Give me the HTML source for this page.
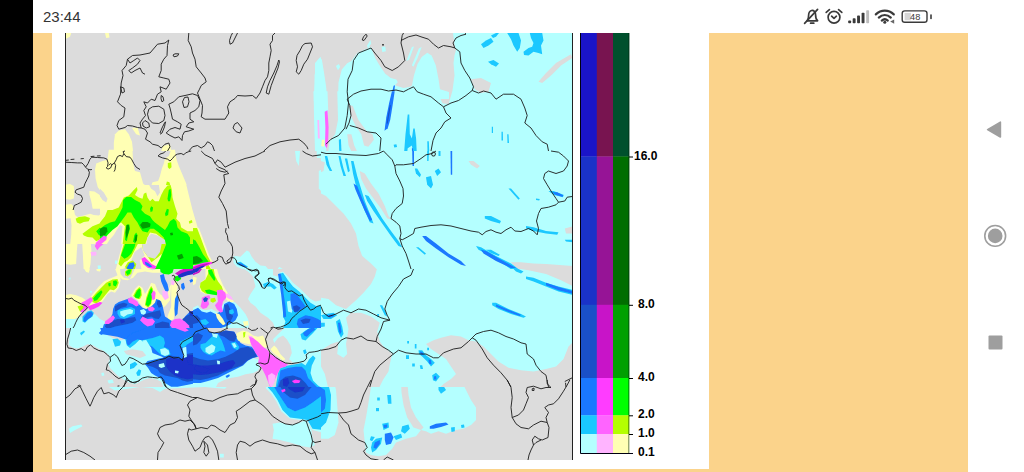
<!DOCTYPE html>
<html><head><meta charset="utf-8"><title>map</title>
<style>
html,body{margin:0;padding:0;background:#fff;}
body{width:1024px;height:472px;overflow:hidden;position:relative;font-family:"Liberation Sans",sans-serif;}
.abs{position:absolute;}
#blk{left:0;top:0;width:33px;height:472px;background:#000;}
#or1{left:33px;top:33px;width:935px;height:439px;background:#fbd38b;}
#wh{left:52px;top:33px;width:656.5px;height:436.3px;background:#fff;}
#time{left:43px;top:8px;font-size:15px;line-height:18px;color:#333;letter-spacing:0px;}
.lbl{position:absolute;font-weight:bold;font-size:12px;line-height:12px;color:#000;left:636px;}
</style></head><body>
<div class="abs" id="blk"></div>
<div class="abs" id="or1"></div>
<div class="abs" id="wh"></div>
<div class="abs" id="time">23:44</div>
<svg class="abs" style="left:795px;top:0" width="150" height="33" viewBox="0 0 150 33">
<g fill="none" stroke="#3a3a3a" stroke-width="1.7" stroke-linecap="round" stroke-linejoin="round">
<!-- muted bell -->
<path d="M12.2 20.8 C13.4 19.4 13.6 17.6 13.6 15.6 C13.6 12.6 14.8 10.9 16.6 10.5 C18.6 10.1 20.6 11.6 20.6 15 C20.6 17.8 21 19.6 22.6 20.8 Z"/>
<path d="M15.6 23.2 H18.8"/>
<path d="M9.6 23.4 L22.6 9.4"/>
<!-- alarm -->
<circle cx="39" cy="17.2" r="5.9"/>
<path d="M36.6 16.2 L39 18.4 L41.4 16.2"/>
<path d="M31.2 12.4 L34.4 9.6"/>
<path d="M46.8 12.4 L43.6 9.6"/>
<!-- wifi -->
<path d="M80.8 14.4 C86 9.4 93.6 9.4 98.8 14.4" stroke-width="2.2"/>
<path d="M83.8 17.6 C87.4 14.2 92.2 14.2 95.8 17.6" stroke-width="2.2"/>
<path d="M86.8 20.6 C88.6 19 91 19 92.8 20.6" stroke-width="2.2"/>
<!-- battery -->
<rect x="107.2" y="10.9" width="24.8" height="11.4" rx="2.6" ry="2.6" stroke-width="1.4"/>
</g>
<g fill="#3a3a3a">
<rect x="53.2" y="20.4" width="2.9" height="2.8" rx=".8"/>
<rect x="57.7" y="18.2" width="2.9" height="5" rx=".8"/>
<rect x="62.1" y="15.4" width="2.9" height="7.8" rx=".8"/>
<rect x="66.6" y="12.8" width="2.9" height="10.4" rx=".8"/>
<rect x="71.2" y="10.2" width="2.9" height="13" rx=".8" fill="#bdbdbd"/>
<circle cx="89.8" cy="22.3" r="1.5"/>
<path d="M99.2 19.4 L99.2 23.8 L95.2 21.6 Z" fill="#666"/>
<rect x="135.2" y="14.2" width="1.6" height="5" rx=".8"/>
<rect x="109.6" y="12.9" width="6.2" height="7.4" fill="#d6d6d6"/>
</g>
<text x="120.2" y="20.3" font-family="Liberation Sans, sans-serif" font-size="9.2" fill="#3a3a3a" text-anchor="middle">48</text>
</svg>
<svg class="abs" style="left:968px;top:100px" width="56" height="272" viewBox="968 100 56 272">
<path d="M987.6 129.6 L1000.4 122.2 L1000.4 137 Z" fill="#9e9e9e" stroke="#9e9e9e" stroke-width="1.6" stroke-linejoin="round"/>
<circle cx="995.2" cy="235.9" r="7.3" fill="#9e9e9e"/>
<circle cx="995.2" cy="235.9" r="10.4" fill="none" stroke="#9e9e9e" stroke-width="1.6"/>
<rect x="988.5" y="335.6" width="14" height="14" rx="1" fill="#9e9e9e"/>
</svg>
<svg class="abs" style="left:65px;top:33px" width="508" height="427" viewBox="65 33 508 427">
<rect x="65" y="33" width="508" height="427" fill="#dcdcdc"/>
<defs><clipPath id="k7"><rect x="100" y="185" width="128" height="59"/></clipPath><clipPath id="k8"><rect x="193" y="228" width="128" height="59"/></clipPath><clipPath id="k10"><rect x="65" y="269" width="128" height="59"/></clipPath><clipPath id="k11"><rect x="193" y="269" width="128" height="59"/></clipPath><clipPath id="k12"><rect x="65" y="328" width="128" height="59"/></clipPath><clipPath id="k13"><rect x="193" y="328" width="128" height="59"/></clipPath><clipPath id="k14"><rect x="321" y="151" width="252" height="118"/></clipPath><clipPath id="k15"><rect x="321" y="269" width="252" height="118"/></clipPath><clipPath id="k16"><rect x="65" y="387" width="256" height="73"/></clipPath><clipPath id="k17"><rect x="321" y="387" width="252" height="73"/></clipPath><clipPath id="k18"><rect x="65" y="244" width="128" height="25"/></clipPath><filter id="bl" x="-2%" y="-2%" width="104%" height="104%"><feGaussianBlur stdDeviation="0.6"/></filter><clipPath id="mapclip"><rect x="65" y="33" width="508" height="427"/></clipPath></defs>
<g clip-path="url(#mapclip)"><g filter="url(#bl)"><rect x="55" y="23" width="528" height="447" fill="#dcdcdc"/>
<g>
<polygon fill="#b4ffff" points="315.0,63.0 321.0,56.8 321.0,103.0 313.8,100.5 315.0,83.0"/>
<polygon fill="#b4ffff" points="313.8,108.0 321.0,108.0 321.0,151.0 315.0,151.0"/>
<polygon fill="#ffffb4" points="65.0,33.0 71.2,33.0 70.0,36.8 65.0,39.2"/>
<polygon fill="#ffffb4" points="105.0,33.0 108.8,33.0 109.5,37.5 106.2,38.0"/>
<polygon fill="#ffffb4" points="113.8,151.0 113.8,143.0 115.0,134.2 118.8,130.5 125.0,129.2 128.8,134.2 132.0,141.8 133.0,151.0"/>
<polygon fill="#ffffb4" points="132.0,128.0 137.5,127.5 140.0,135.5 136.2,134.2"/>
<polygon fill="#ffffb4" points="161.2,151.0 163.0,146.0 170.0,144.2 171.2,151.0"/>
</g>
<g>
<polygon fill="#b4ffff" points="314.1,99.0 314.6,75.2 317.0,61.1 319.8,57.6 321.9,59.7 324.0,72.4 326.1,86.4 327.2,99.0"/>
<polygon fill="#b4ffff" points="338.0,99.0 338.5,82.2 341.8,69.6 347.2,63.2 351.4,61.1 353.5,58.3 357.7,52.7 365.5,49.2 371.1,47.1 372.5,51.3 375.3,58.3 379.5,65.3 385.2,73.8 390.8,78.0 396.4,79.4 397.8,82.2 395.0,85.3 403.4,88.1 409.8,87.1 411.9,85.7 414.0,75.2 417.5,63.9 421.7,56.9 427.3,52.7 431.6,55.5 435.8,65.3 438.6,79.4 440.0,89.3 449.0,92.1 449.0,99.0"/>
<polygon fill="#b4ffff" points="406.3,61.1 411.9,47.1 414.0,46.4 409.1,59.7"/>
<polygon fill="#b4ffff" points="411.9,65.3 418.9,48.5 421.7,47.1 417.5,58.3 413.3,66.8"/>
<polygon fill="#b4ffff" points="335.9,66.0 338.8,63.9 340.2,66.8 338.0,70.3"/>
<polygon fill="#b4ffff" points="366.9,45.7 370.4,40.0 371.1,43.5 368.3,48.5"/>
<polygon fill="#b4ffff" points="381.6,47.1 385.2,46.4 385.9,51.3 382.3,52.0"/>
<polygon fill="#1a78ff" points="391.1,99.0 392.2,92.1 393.6,85.7 395.0,85.3 394.3,92.1 393.3,99.0"/>
</g>
<g>
<polygon fill="#b4ffff" points="313.4,91.3 327.5,91.3 328.2,110.3 327.5,134.2 326.1,151.1 324.7,158.0 317.0,158.0 315.5,134.2 314.1,113.1"/>
<polygon fill="#b4ffff" points="337.3,91.3 440.0,91.3 440.7,103.3 449.0,104.0 449.0,158.0 327.5,158.0 329.6,141.2 335.2,134.2 338.0,120.1"/>
<polygon fill="#dcdcdc" points="348.6,104.7 352.8,106.1 358.4,120.1 366.9,131.4 372.5,134.2 373.9,139.8 368.3,146.8 364.1,145.4 361.3,134.2 355.6,125.8 351.4,117.3"/>
<polygon fill="#dcdcdc" points="347.2,134.2 351.4,134.2 354.2,145.4 358.4,153.9 352.8,153.9 348.6,145.4"/>
<polygon fill="#ffffb4" points="321.9,139.8 324.7,139.8 324.0,146.8 321.2,146.1"/>
<polygon fill="#1ac8ff" points="338.8,139.8 340.9,139.1 341.8,158.0 339.5,158.0"/>
<polygon fill="#1ac8ff" points="393.6,144.7 396.4,144.3 397.1,147.1 394.3,147.5"/>
<polygon fill="#1ac8ff" points="405.5,134.2 407.7,114.5 409.3,114.5 409.8,134.2 411.9,138.4 413.3,128.6 414.7,128.6 416.1,138.4 416.8,153.9 413.3,153.9 411.9,145.4 407.7,148.3 407.0,153.9 404.1,152.5"/>
<polygon fill="#1ac8ff" points="435.8,138.4 437.9,137.0 440.0,145.4 441.4,153.9 438.6,158.0 436.5,153.9"/>
<polygon fill="#1ac8ff" points="427.3,141.2 428.8,141.2 429.5,158.0 427.6,158.0"/>
<polygon fill="#1a78ff" points="384.5,130.7 386.3,117.3 389.1,103.3 391.9,91.3 394.7,91.3 392.5,106.1 390.2,120.1 387.7,128.3"/>
<polygon fill="#1a78ff" points="326.1,152.5 328.2,151.8 328.6,158.0 326.1,158.0"/>
<polygon fill="#1a78ff" points="411.9,148.3 413.0,148.3 413.3,158.0 412.2,158.0"/>
<polygon fill="#1a50c8" points="386.6,123.6 388.3,113.1 389.9,104.7 390.8,105.4 389.1,115.2 387.7,123.6"/>
<polygon fill="#ffb4ff" points="317.4,120.1 319.1,120.1 319.8,138.4 317.9,138.4"/>
<polygon fill="#ff64ff" points="324.7,111.7 327.5,110.3 328.6,127.2 328.2,141.2 326.8,148.3 325.0,145.4 325.4,127.2"/>
</g>
<g>
<polygon fill="#b4ffff" points="453.0,33.0 572.2,33.0 572.2,151.0 431.0,151.0 431.0,108.0 440.5,99.0 443.5,105.5 448.5,104.2 452.5,90.5 454.5,75.5 453.5,63.0 454.5,55.5 456.0,50.0 454.8,46.8"/>
<polygon fill="#dcdcdc" points="471.0,79.2 481.0,78.0 491.0,83.0 488.5,91.8 481.0,93.0 474.8,89.2"/>
<polygon fill="#dcdcdc" points="538.5,81.8 546.0,73.0 556.0,63.0 571.0,54.2 572.2,58.0 561.0,65.5 551.0,75.5 542.2,83.0"/>
<polygon fill="#1ac8ff" points="481.0,44.2 486.0,40.5 491.0,38.0 493.5,41.8 488.5,45.5 483.5,48.0"/>
<polygon fill="#1ac8ff" points="491.0,35.5 496.0,33.0 499.0,33.0 496.0,36.8 493.0,38.0"/>
<polygon fill="#1ac8ff" points="507.2,33.0 518.5,33.0 521.0,40.5 519.8,48.0 517.2,51.8 513.5,45.5 511.0,39.2"/>
<polygon fill="#1ac8ff" points="523.5,51.8 528.5,48.0 532.2,46.8 533.5,43.0 531.0,38.0 529.8,33.0 542.2,33.0 543.5,40.5 541.0,45.5 542.2,54.2 538.5,53.0 533.5,51.8 528.5,55.5 524.0,55.0"/>
<polygon fill="#1ac8ff" points="488.0,61.8 493.5,60.0 499.0,63.5 496.0,66.8 491.0,64.2"/>
<polygon fill="#1ac8ff" points="491.8,126.8 493.0,126.8 493.0,133.0 491.8,133.0"/>
<polygon fill="#1ac8ff" points="501.5,131.8 502.8,131.8 503.0,140.5 501.5,140.5"/>
<polygon fill="#1ac8ff" points="507.2,134.2 508.5,134.2 509.0,143.0 507.5,143.0"/>
</g>
<g>
<polygon fill="#ffffb4" points="108.8,149.8 132.5,149.8 133.1,163.5 135.0,171.0 140.0,172.2 143.1,183.5 147.5,187.2 152.5,192.2 157.5,198.5 158.8,203.5 152.5,211.0 108.1,211.0 108.8,206.0 106.9,201.0 102.5,193.5 97.8,187.2 95.6,178.5 95.0,169.8 96.2,163.5 102.5,161.0 107.5,159.8"/>
<polygon fill="#ffffb4" points="89.4,191.0 94.4,191.6 99.4,194.8 103.1,200.4 106.2,206.0 106.9,211.0 93.1,211.0 91.2,201.0 89.4,194.8"/>
<polygon fill="#ffffb4" points="65.0,184.8 70.0,184.1 73.8,186.0 74.4,192.2 73.8,198.5 70.0,199.8 65.0,199.1"/>
<polygon fill="#ffffb4" points="65.0,204.8 71.2,204.1 73.8,206.6 73.8,211.0 65.0,211.0"/>
<polygon fill="#ffffb4" points="163.8,163.5 165.0,158.5 168.8,156.0 171.2,149.8 175.0,149.8 176.2,158.5 178.8,166.0 182.5,174.8 186.2,183.5 188.8,192.2 190.0,201.0 191.2,211.0 152.5,211.0 158.8,203.5 160.0,201.0 158.1,194.8 155.0,191.0 151.2,186.0 152.5,182.2 158.1,181.0 160.0,176.0 161.9,168.5"/>
<polygon fill="#b4ff00" points="120.0,211.0 121.9,204.8 123.8,199.1 126.9,195.4 131.2,194.8 133.8,191.0 135.2,187.0 137.5,187.0 136.9,192.9 138.8,198.5 141.2,199.8 143.1,194.1 145.6,192.9 146.9,199.1 150.0,201.0 153.1,198.5 154.4,203.5 155.0,211.0"/>
<polygon fill="#b4ff00" points="158.1,211.0 160.0,203.5 162.5,196.0 165.0,188.5 166.9,181.6 169.4,182.2 171.2,188.5 172.5,196.0 174.4,203.5 176.2,211.0"/>
<polygon fill="#b4ff00" points="167.8,162.9 171.2,162.2 171.5,167.2 169.4,169.1 167.8,167.2"/>
<polygon fill="#00ff00" points="121.9,211.0 123.8,202.2 126.2,197.2 130.0,196.0 133.1,197.9 136.2,201.0 140.0,202.2 142.5,206.0 143.1,211.0"/>
<polygon fill="#00ff00" points="161.9,211.0 163.8,201.0 165.6,192.2 167.5,186.0 169.4,187.2 170.6,193.5 171.2,201.0 172.5,211.0"/>
</g>
<g>
<polygon fill="#b4ffff" points="115.0,260.0 117.5,259.4 117.5,263.8 115.6,264.4"/>
<polygon fill="#ffffb4" points="65.0,209.4 193.0,209.4 193.0,270.0 65.0,270.0"/>
<polygon fill="#dcdcdc" points="73.8,208.8 104.4,208.8 102.5,212.5 98.8,215.6 93.8,215.0 90.0,213.8 83.8,215.6 77.5,216.9 75.0,215.0"/>
<polygon fill="#dcdcdc" points="106.9,236.9 112.5,233.8 117.5,228.8 119.4,232.5 120.0,240.0 118.8,251.2 120.6,257.5 123.8,258.8 130.0,256.9 135.0,251.2 140.0,253.8 145.0,256.2 152.5,258.8 155.0,262.5 152.5,265.0 147.5,263.8 145.0,257.5 141.2,256.2 140.0,262.5 135.0,260.0 130.0,261.2 127.5,270.0 87.5,270.0 90.0,265.0 96.2,260.0 97.8,251.2 100.0,246.2 103.8,241.2"/>
<polygon fill="#dcdcdc" points="147.5,235.0 152.5,232.5 160.0,238.8 161.2,247.5 158.1,255.0 152.5,259.0 146.2,256.5 141.2,255.0 142.5,247.5 146.2,241.2"/>
<polygon fill="#dcdcdc" points="76.0,245.6 78.5,245.0 78.1,252.5 76.9,260.0 75.2,265.0 75.0,255.0"/>
<polygon fill="#dcdcdc" points="65.0,218.8 70.6,218.2 71.5,225.0 71.2,235.0 70.2,244.0 65.0,244.0"/>
<polygon fill="#b4ff00" points="75.6,218.8 78.8,216.9 85.0,216.2 90.0,218.1 88.8,221.2 83.8,221.9 80.0,223.8 76.9,222.5"/>
<polygon fill="#b4ff00" points="82.5,233.8 87.5,230.0 92.5,226.2 98.8,223.8 103.8,221.2 108.8,217.5 112.5,212.5 115.0,209.4 142.5,209.4 145.0,217.5 140.0,221.2 135.0,222.5 132.5,217.5 127.5,216.2 123.8,220.0 120.0,225.0 117.5,228.8 112.5,233.8 107.5,236.9 102.5,238.1 98.8,240.0 96.2,241.2 92.5,237.5 87.5,236.9 83.8,235.6"/>
<polygon fill="#b4ff00" points="120.0,230.0 123.8,223.8 127.5,221.2 131.2,222.5 133.1,228.8 135.0,226.2 140.0,221.2 147.5,220.0 155.0,223.8 160.0,228.8 165.0,231.2 167.5,225.0 172.5,221.2 177.5,225.0 182.5,231.2 193.0,233.8 193.0,270.0 152.5,270.0 151.2,265.0 155.0,262.5 158.1,255.0 161.2,247.5 163.8,242.5 165.0,237.5 161.2,233.8 156.2,228.8 152.5,230.0 150.0,232.5 146.2,235.0 145.0,241.2 141.2,247.5 138.8,251.2 135.0,251.2 132.5,247.5 130.0,251.2 125.0,257.5 120.6,258.8 120.0,253.8 121.2,247.5 123.8,241.2 122.5,235.0"/>
<polygon fill="#b4ff00" points="142.5,209.4 193.0,209.4 193.0,217.5 187.5,222.5 183.8,220.0 177.5,215.0 172.5,213.8 167.5,217.5 165.0,215.0 160.0,213.8 152.5,215.0 147.5,212.5"/>
<polygon fill="#00ff00" points="96.2,231.2 101.2,226.2 106.2,223.8 111.2,221.2 115.0,218.8 117.5,222.5 115.0,228.8 111.2,233.8 107.5,236.2 102.5,236.9 98.8,235.0"/>
<polygon fill="#00ff00" points="123.8,241.2 125.0,235.0 126.2,226.2 128.8,223.1 130.6,225.0 130.0,231.2 128.8,238.8 130.0,242.5 127.5,247.5 123.8,253.8 121.2,256.2 120.6,252.5 121.9,246.2"/>
<polygon fill="#00ff00" points="133.1,246.2 133.8,240.0 136.2,233.8 138.8,226.2 141.2,222.5 146.2,221.2 152.5,222.5 156.2,225.0 160.0,228.8 163.8,232.5 167.5,236.2 168.8,232.5 171.2,222.5 175.0,217.5 177.5,221.2 178.8,228.8 183.8,231.2 193.0,232.5 193.0,270.0 160.0,270.0 162.5,263.8 160.0,260.0 157.5,262.5 152.5,265.0 155.0,260.0 157.5,253.8 161.2,247.5 163.8,242.5 165.0,237.5 161.2,233.8 155.0,228.8 151.2,230.0 147.5,233.8 145.0,240.0 141.2,246.2 138.8,250.0 135.0,250.0"/>
<polygon fill="#00ff00" points="135.0,209.4 172.5,209.4 167.5,212.5 160.0,215.0 152.5,213.8 142.5,210.6"/>
<polygon fill="#00a000" points="99.4,231.2 102.5,226.9 107.5,225.6 110.6,227.5 108.8,232.5 105.0,235.0 101.2,235.6"/>
<polygon fill="#00a000" points="125.6,233.8 126.9,226.2 128.8,224.4 130.0,226.2 129.0,233.8 126.9,236.2"/>
<polygon fill="#00a000" points="140.0,225.0 145.0,221.9 150.0,222.5 151.2,226.2 147.5,230.0 142.5,230.6"/>
<polygon fill="#00a000" points="134.4,241.2 135.6,235.0 137.5,233.8 138.1,238.8 136.2,243.8"/>
<polygon fill="#00a000" points="170.6,233.1 173.1,233.8 172.5,236.2 170.6,235.6"/>
<polygon fill="#00a000" points="173.8,243.8 176.9,244.4 176.2,247.5 173.8,246.9"/>
<polygon fill="#00a000" points="182.5,250.0 186.2,251.2 185.6,255.0 182.5,253.8"/>
<polygon fill="#00a000" points="188.8,252.5 193.0,251.2 193.0,260.0 189.4,258.8"/>
<polygon fill="#ffb4ff" points="88.1,253.8 93.8,251.9 95.6,253.8 93.8,256.2 88.8,256.2"/>
<polygon fill="#ffb4ff" points="126.2,263.1 130.0,261.0 134.4,261.9 134.4,265.6 131.2,270.0 126.5,270.0"/>
<polygon fill="#b4ffff" points="91.2,252.5 94.4,252.2 95.0,254.8 91.9,255.2"/>
<polygon fill="#1a50c8" points="127.5,264.4 130.0,262.2 133.5,262.8 133.1,265.6 130.6,270.0 127.5,270.0"/>
<polygon fill="#ff64ff" points="95.6,243.1 98.8,240.0 102.5,236.9 106.2,236.2 106.9,238.1 104.4,240.6 101.2,242.5 98.8,246.2 98.1,250.0 96.2,249.4"/>
<polygon fill="#ff3cff" points="143.1,258.1 146.2,260.0 148.8,263.8 151.2,266.2 155.0,267.5 152.5,270.0 148.8,268.1 145.0,265.0 142.5,261.2"/>
<polygon fill="#1a78ff" points="146.9,263.1 149.4,266.2 152.5,267.8 151.2,268.8 148.1,267.2 146.2,264.8"/>
<polygon fill="#c814c8" points="182.5,270.0 186.2,266.9 193.0,266.2 193.0,270.0"/>
</g>
<g clip-path="url(#k7)">
<rect x="100" y="185" width="128" height="59" fill="#ffffb4"/>
<polygon fill="#dcdcdc" points="186.2,184.4 228.8,184.4 228.8,245.0 202.5,245.0 200.0,235.0 196.2,222.5 192.5,210.0 189.4,197.5"/>
<polygon fill="#dcdcdc" points="100.0,188.8 103.8,192.5 107.5,198.8 106.2,202.5 102.5,200.0 100.0,196.2"/>
<polygon fill="#dcdcdc" points="148.8,184.4 158.8,184.4 160.0,192.5 157.5,196.2 155.0,191.2 151.2,188.8"/>
<polygon fill="#dcdcdc" points="106.2,245.0 109.4,240.0 113.8,235.0 117.5,228.8 120.0,225.0 122.5,226.2 121.9,232.5 121.2,245.0"/>
<polygon fill="#dcdcdc" points="131.2,235.0 133.8,228.8 135.6,230.0 134.4,237.5 131.9,240.0"/>
<polygon fill="#b4ff00" points="105.0,216.2 107.5,210.0 112.5,210.0 118.8,207.5 123.8,197.5 128.8,195.6 133.8,190.0 136.9,186.9 137.5,190.0 135.0,195.0 138.8,197.5 142.5,198.8 143.8,193.8 146.2,192.5 147.5,197.5 150.0,201.2 152.5,198.8 155.0,201.2 158.8,201.2 161.2,195.0 163.8,190.0 167.5,185.6 170.6,185.0 171.9,190.0 172.5,197.5 175.0,206.2 177.5,213.8 176.2,218.8 180.0,222.5 181.2,227.5 187.5,231.2 195.0,231.2 198.8,235.0 200.0,240.0 201.2,245.0 165.0,245.0 162.5,238.8 156.2,233.8 150.0,232.5 147.5,237.5 145.0,245.0 122.5,245.0 123.8,235.0 125.0,226.2 121.2,222.5 116.2,223.8 111.2,226.2 105.0,227.5 100.0,230.0 100.0,222.5"/>
<polygon fill="#b4ff00" points="188.8,221.2 191.9,220.0 192.5,222.5 189.4,223.8"/>
<polygon fill="#00ff00" points="100.0,228.8 105.0,225.0 110.0,222.5 115.0,221.2 120.0,212.5 122.5,207.5 123.1,200.0 126.2,196.9 131.2,196.9 135.0,200.0 140.0,202.5 142.5,206.2 141.2,210.0 145.0,213.8 150.0,216.2 152.5,220.0 155.0,222.5 160.0,226.2 165.0,230.0 167.5,226.2 170.0,221.2 173.8,218.8 176.2,221.2 177.5,227.5 181.2,231.2 187.5,233.8 190.0,237.5 190.0,245.0 166.2,245.0 163.8,237.5 158.8,232.5 153.8,228.8 150.0,228.8 147.5,232.5 142.5,231.2 140.0,227.5 137.5,222.5 133.8,217.5 131.2,212.5 127.5,212.5 125.0,216.2 121.2,221.2 117.5,226.2 112.5,230.0 107.5,235.0 103.8,240.0 100.0,241.2"/>
<polygon fill="#00ff00" points="125.0,240.0 125.6,230.0 126.9,224.4 129.4,224.4 130.0,228.8 128.1,235.0 126.9,241.2"/>
<polygon fill="#00ff00" points="133.1,241.2 134.4,235.0 136.2,232.5 137.5,235.0 136.9,240.0 135.0,243.8"/>
<polygon fill="#00ff00" points="150.0,208.8 151.2,206.2 153.1,207.5 152.5,211.2 150.6,211.9"/>
<polygon fill="#00ff00" points="165.0,213.8 166.9,208.8 168.8,209.4 168.1,215.0 165.6,216.2"/>
<polygon fill="#00ff00" points="167.5,198.8 168.8,190.0 170.6,188.8 171.2,195.0 170.0,201.2 168.1,201.2"/>
<polygon fill="#00a000" points="100.0,228.8 103.8,226.9 106.9,227.5 107.5,231.2 105.0,235.0 100.0,236.2"/>
<polygon fill="#00a000" points="140.0,225.0 142.5,221.9 147.5,221.9 150.6,223.8 150.0,226.9 146.2,228.1 142.5,228.8"/>
<polygon fill="#00a000" points="125.6,232.5 126.5,225.0 128.8,224.8 129.4,228.8 127.8,235.0 126.2,238.8"/>
<polygon fill="#00a000" points="134.4,240.0 135.6,235.0 137.2,235.0 136.9,240.0 135.6,242.5"/>
<polygon fill="#00a000" points="170.0,233.1 172.5,232.5 173.1,235.0 170.6,235.6"/>
<polygon fill="#dcdcdc" points="146.2,245.0 147.5,237.5 151.2,233.8 156.2,235.0 161.2,237.5 165.0,240.0 165.6,245.0"/>
<polygon fill="#ff64ff" points="100.0,238.8 103.8,235.6 106.9,236.9 106.2,240.0 102.5,243.1 100.0,245.0"/>
</g>
<g clip-path="url(#k8)">
<rect x="193" y="228" width="128" height="59" fill="#dcdcdc"/>
<polygon fill="#b4ffff" points="233.0,256.8 236.1,256.1 240.5,256.8 244.2,253.0 246.8,250.5 249.2,251.8 251.8,256.8 255.5,261.8 260.5,265.5 265.5,266.1 269.2,270.5 273.0,275.5 276.8,270.5 279.2,266.8 283.0,269.2 288.0,274.2 293.0,280.5 296.8,288.0 261.8,288.0 258.0,281.8 254.2,276.8 248.0,271.8 243.0,269.2 236.8,266.8 233.6,263.0"/>
<polygon fill="#b4ffff" points="248.0,278.0 249.9,277.8 249.9,279.5 248.0,279.5"/>
<polygon fill="#ffffb4" points="193.0,227.4 198.6,227.4 201.8,235.5 205.5,245.5 209.2,255.5 213.0,262.4 209.9,265.5 212.4,270.5 218.0,278.0 223.0,283.0 226.1,288.0 193.0,288.0"/>
<polygon fill="#dcdcdc" points="200.5,272.4 205.5,270.5 207.4,277.4 203.0,281.8 199.9,280.5"/>
<polygon fill="#1ac8ff" points="236.8,262.4 240.5,261.8 244.2,264.2 248.0,266.8 246.8,268.0 243.0,266.8 239.2,265.5 236.8,264.2"/>
<polygon fill="#1ac8ff" points="276.8,273.0 279.2,270.5 283.0,271.8 288.0,276.8 293.0,283.0 295.5,288.0 265.5,288.0 268.0,283.0 273.0,281.8 276.8,278.0"/>
<polygon fill="#b4ff00" points="193.0,227.4 196.8,227.4 199.9,235.5 203.6,245.5 207.4,255.5 210.5,261.5 205.5,264.2 193.0,265.5"/>
<polygon fill="#b4ff00" points="206.1,265.5 208.6,264.9 211.8,270.5 216.8,278.0 219.9,283.6 218.0,284.9 213.0,281.8 208.0,283.0 205.5,288.0 200.5,288.0 203.0,280.5 206.8,278.0 208.0,273.0 206.1,269.2"/>
<polygon fill="#1a78ff" points="238.0,263.0 241.8,263.6 245.5,266.1 247.4,267.4 244.2,267.0 240.5,265.5"/>
<polygon fill="#1a78ff" points="278.0,275.5 279.2,273.0 281.1,278.0 282.4,283.0 285.5,280.5 283.6,274.2 285.5,275.5 289.2,283.0 290.5,288.0 279.2,288.0 279.2,281.8"/>
<polygon fill="#1a78ff" points="265.5,288.0 266.8,284.2 270.5,283.0 273.0,284.9 271.8,288.0"/>
<polygon fill="#00ff00" points="193.0,239.2 195.5,240.5 199.2,246.8 203.0,254.2 206.8,259.2 208.6,261.8 200.5,264.2 193.0,264.9"/>
<polygon fill="#00ff00" points="209.2,269.2 211.8,273.0 214.9,278.0 216.8,283.0 214.9,282.4 211.8,278.0 209.2,273.0"/>
<polygon fill="#00a000" points="193.0,256.8 196.8,256.1 200.5,258.0 203.0,261.1 198.0,263.6 193.0,264.2"/>
<polygon fill="#ff3cff" points="193.0,266.1 198.0,264.2 204.2,262.4 211.8,261.8 212.4,263.6 208.0,265.5 201.8,267.4 196.8,269.9 193.0,271.8"/>
<polygon fill="#c814c8" points="193.0,267.4 199.2,264.9 206.8,263.2 210.5,263.0 206.8,264.9 200.5,266.8 195.5,269.2 193.0,270.5"/>
<polygon fill="#1a32c8" points="193.0,269.9 196.8,268.0 201.8,266.1 205.5,265.5 203.0,267.4 198.0,269.9 194.2,272.4 193.0,273.2"/>
</g>
<g>
<polygon fill="#b4ffff" points="295.0,151.0 300.0,151.0 298.8,166.0 296.2,161.0"/>
<polygon fill="#b4ffff" points="318.8,171.0 321.0,169.8 321.0,191.0 318.8,188.5"/>
</g>
<g clip-path="url(#k10)">
<rect x="65" y="269" width="128" height="59" fill="#dcdcdc"/>
<polygon fill="#b4ffff" points="65.0,319.0 75.0,319.0 80.0,316.5 85.0,319.0 90.0,316.5 95.0,314.0 100.0,319.0 105.0,321.5 102.5,329.0 65.0,329.0"/>
<polygon fill="#b4ffff" points="68.8,277.8 70.6,277.5 70.6,279.6 68.8,279.6"/>
<polygon fill="#b4ffff" points="90.0,290.9 91.9,290.9 91.9,292.8 90.0,292.8"/>
<polygon fill="#ffffb4" points="65.0,295.2 70.0,294.0 76.2,295.2 82.5,297.8 87.5,301.5 83.8,310.2 78.8,316.5 75.0,319.0 65.0,319.0"/>
<polygon fill="#ffffb4" points="90.0,297.8 93.8,292.8 98.8,286.5 103.8,281.5 108.8,279.0 115.0,276.5 120.0,274.0 120.6,280.2 118.8,287.8 115.0,292.8 111.2,291.5 107.5,294.0 102.5,301.5 97.5,306.5 92.5,309.0 87.5,306.5"/>
<polygon fill="#ffffb4" points="83.8,268.4 90.0,268.4 88.8,272.8 86.2,272.1"/>
<polygon fill="#ffffb4" points="96.2,268.4 101.2,268.4 100.0,271.5 96.9,270.9"/>
<polygon fill="#ffffb4" points="115.0,268.4 120.0,268.4 120.6,274.0 123.8,277.8 130.0,279.0 132.5,274.0 135.0,268.4 145.0,268.4 152.5,270.2 160.0,268.4 160.0,272.8 152.5,272.8 145.0,271.5 137.5,272.8 133.1,277.8 127.5,280.2 122.5,279.6 117.5,275.2"/>
<polygon fill="#ffffb4" points="131.2,295.2 135.0,289.0 138.8,285.2 142.5,287.8 145.0,294.0 148.8,287.8 151.2,282.8 155.0,284.0 157.5,290.2 160.0,294.0 165.0,297.8 167.5,294.0 168.8,289.0 171.2,284.0 170.0,300.2 165.0,306.5 160.0,307.8 152.5,309.0 145.0,309.0 141.2,305.2 137.5,300.2"/>
<polygon fill="#ffffb4" points="171.2,281.5 176.2,280.2 177.5,287.8 175.0,300.2 175.0,310.2 173.8,319.0 168.8,321.5 167.5,316.5 171.2,306.5 171.2,294.0"/>
<polygon fill="#1ac8ff" points="82.5,316.5 87.5,311.5 91.2,310.2 93.8,312.8 92.5,316.5 88.8,319.0 85.0,322.8 82.5,321.5"/>
<polygon fill="#b4ff00" points="77.5,306.5 81.2,305.2 85.0,306.5 83.8,310.2 80.0,311.5"/>
<polygon fill="#b4ff00" points="91.9,297.8 96.2,292.8 101.2,287.8 106.2,282.8 112.5,279.6 117.5,279.0 118.8,282.8 116.9,287.8 113.8,290.2 110.0,289.6 106.2,294.0 101.2,300.2 96.2,303.4 92.5,302.1"/>
<polygon fill="#b4ff00" points="125.0,271.5 128.8,268.4 132.5,268.4 131.2,274.0 127.5,276.5 125.0,275.2"/>
<polygon fill="#b4ff00" points="133.1,295.9 136.2,290.2 139.4,287.1 141.2,289.0 141.9,295.2 140.0,299.0 136.2,298.4"/>
<polygon fill="#b4ff00" points="145.0,305.2 146.2,297.8 148.8,290.2 151.2,285.9 153.1,289.0 152.5,296.5 151.2,304.0 148.1,307.8"/>
<polygon fill="#1a78ff" points="83.8,317.8 87.5,312.8 91.2,311.5 93.1,314.0 91.2,317.1 87.5,319.6 85.0,322.1 83.5,320.9"/>
<polygon fill="#1a78ff" points="106.2,322.8 110.0,319.0 112.5,314.0 113.1,309.0 115.0,304.6 118.8,302.1 123.8,300.2 128.8,298.4 132.5,299.6 136.2,302.1 140.0,305.2 142.5,307.8 146.2,309.0 151.2,306.5 155.0,302.8 156.2,299.0 160.0,300.2 162.5,305.2 163.8,311.5 165.0,316.5 168.8,319.0 172.5,321.5 177.5,324.0 182.5,321.5 185.0,316.5 188.8,312.8 193.8,311.5 193.8,329.0 102.5,329.0 103.8,324.6"/>
<polygon fill="#1a78ff" points="160.0,275.2 163.8,274.0 165.0,279.0 167.5,284.0 168.8,290.2 166.2,292.8 163.8,287.8 161.2,281.5"/>
<polygon fill="#1a78ff" points="175.0,299.0 177.5,294.0 178.8,299.0 178.1,306.5 177.5,314.0 175.0,316.5 174.4,309.0"/>
<polygon fill="#1a78ff" points="181.2,284.0 183.8,282.8 185.0,287.8 183.1,290.2 181.2,287.8"/>
<polygon fill="#1a78ff" points="189.4,280.2 191.9,279.0 193.8,280.9 190.6,282.8"/>
<polygon fill="#1ac8ff" points="117.5,310.2 123.8,308.4 131.2,307.1 135.0,309.0 135.0,314.0 130.0,316.5 125.0,319.0 120.0,317.8 117.5,314.0"/>
<polygon fill="#b4ffff" points="120.0,311.5 123.8,310.2 130.0,309.0 133.1,310.2 132.5,313.4 127.5,314.6 123.8,317.1 120.6,315.2"/>
<polygon fill="#b4ffff" points="140.0,310.2 143.8,309.0 146.2,311.5 145.0,315.2 141.2,314.0"/>
<polygon fill="#00ff00" points="93.1,298.4 96.9,294.0 101.2,290.2 102.5,292.1 100.0,296.5 96.9,300.2 94.4,300.9"/>
<polygon fill="#00ff00" points="113.1,280.9 116.2,280.2 117.5,282.8 115.6,286.5 113.1,285.2"/>
<polygon fill="#00ff00" points="108.1,283.4 110.6,282.8 110.6,285.9 108.8,286.5"/>
<polygon fill="#00ff00" points="125.6,272.1 128.8,269.6 131.2,269.6 130.0,273.4 127.5,275.2"/>
<polygon fill="#00ff00" points="134.4,295.9 136.9,290.9 139.4,288.4 140.6,290.2 140.6,295.2 138.8,298.4 135.6,297.8"/>
<polygon fill="#00ff00" points="145.6,304.6 146.9,298.4 149.4,291.5 151.2,287.8 152.5,290.9 151.9,297.1 150.6,303.4 148.1,306.5"/>
<polygon fill="#00ff00" points="160.0,268.4 173.8,268.4 172.5,272.8 168.8,274.6 163.8,274.0 160.6,272.1"/>
<polygon fill="#00ff00" points="175.0,276.5 180.0,275.2 181.2,279.0 177.5,281.5 175.0,280.2"/>
<polygon fill="#1a50c8" points="115.0,306.5 118.8,304.0 123.8,302.8 127.5,304.0 126.2,306.5 121.2,307.8 117.5,310.2 115.0,311.5"/>
<polygon fill="#1a50c8" points="106.2,324.0 111.2,321.5 117.5,319.0 123.8,319.0 130.0,317.8 135.0,317.1 136.2,320.2 132.5,322.8 127.5,324.0 121.2,325.2 115.0,326.5 107.5,329.0 105.0,326.5"/>
<polygon fill="#1a50c8" points="141.2,316.5 145.0,314.0 150.0,312.8 155.0,311.5 160.0,310.2 161.2,315.2 158.8,319.0 155.0,318.4 151.2,316.5 146.2,317.8 142.5,319.0"/>
<polygon fill="#1a50c8" points="157.5,300.2 161.2,301.5 161.9,306.5 158.8,307.8 156.9,304.0"/>
<polygon fill="#1a50c8" points="182.5,319.0 187.5,315.2 193.8,312.8 193.8,329.0 185.0,329.0 182.5,324.0"/>
<polygon fill="#1a50c8" points="155.0,324.0 162.5,321.5 168.8,322.8 170.0,329.0 155.0,329.0"/>
<polygon fill="#1a32c8" points="120.0,320.2 123.8,319.6 125.0,322.1 121.2,323.4"/>
<polygon fill="#1a32c8" points="188.8,311.5 193.8,310.9 193.8,316.5 190.0,315.2"/>
<polygon fill="#1a32c8" points="177.5,274.0 182.5,271.5 188.8,270.2 193.8,269.6 193.8,274.0 187.5,275.2 182.5,277.1 178.8,277.8"/>
<polygon fill="#ffb4ff" points="162.5,290.2 167.5,291.5 168.8,297.8 165.0,300.2 162.5,296.5"/>
<polygon fill="#ffb4ff" points="171.2,280.2 175.0,281.5 173.8,285.2 171.2,284.6"/>
<polygon fill="#ff64ff" points="81.2,302.8 86.2,300.2 91.2,297.1 93.1,300.2 90.0,304.0 88.1,306.5 85.6,310.2 82.5,312.8 80.0,311.5 83.8,307.8"/>
<polygon fill="#ff64ff" points="105.0,321.5 108.8,318.4 113.1,315.2 115.0,317.8 112.5,321.5 108.8,324.0 105.0,324.0"/>
<polygon fill="#ff64ff" points="127.5,299.0 131.2,297.1 133.8,299.0 137.5,301.5 138.8,305.2 136.2,306.5 132.5,304.0 128.8,302.8"/>
<polygon fill="#ff64ff" points="151.2,294.0 153.8,290.2 155.6,292.8 155.0,299.0 152.5,300.2"/>
<polygon fill="#ff64ff" points="142.5,316.5 147.5,319.0 152.5,318.4 155.0,321.5 152.5,325.2 147.5,326.5 143.8,324.0 140.0,320.2"/>
<polygon fill="#ff64ff" points="171.2,321.5 175.0,319.0 180.0,318.4 185.0,321.5 188.8,325.2 190.0,329.0 172.5,329.0 170.0,325.2"/>
<polygon fill="#ff64ff" points="147.5,307.8 152.5,306.5 155.0,309.0 152.5,311.5 148.8,310.9"/>
<polygon fill="#ff3cff" points="87.5,306.5 93.8,304.0 100.0,302.1 102.5,302.8 98.8,306.5 93.8,309.0 90.0,310.2"/>
<polygon fill="#c814c8" points="175.0,273.4 180.0,270.2 185.0,268.4 193.8,268.4 193.8,270.2 188.1,270.9 182.5,272.8 178.1,275.2"/>
</g>
<g clip-path="url(#k11)">
<rect x="193" y="269" width="128" height="59" fill="#dcdcdc"/>
<polygon fill="#b4ffff" points="243.0,268.4 273.0,268.4 273.0,275.2 278.0,276.5 279.2,272.8 283.0,271.5 288.0,276.5 293.0,282.8 299.2,287.8 305.5,294.0 310.5,299.0 315.5,301.5 321.8,300.2 321.8,329.0 275.5,329.0 273.0,322.8 268.0,317.8 264.2,315.2 260.5,312.8 255.5,306.5 250.5,302.8 248.0,299.0 250.5,294.0 253.0,290.2 255.5,286.5 254.2,281.5 253.0,276.5 248.0,271.5"/>
<polygon fill="#b4ffff" points="193.0,307.8 198.0,305.2 200.5,309.0 205.5,310.2 211.8,309.0 218.0,312.8 224.2,302.8 230.5,300.2 235.5,302.8 240.5,307.8 245.5,314.0 248.0,319.0 249.2,324.0 248.0,329.0 193.0,329.0"/>
<polygon fill="#ffffb4" points="205.5,268.4 216.8,268.4 219.2,276.5 223.0,285.2 226.8,291.5 230.5,297.8 234.2,301.5 230.5,302.8 226.8,300.2 224.2,294.0 221.8,290.2 218.0,291.5 211.8,294.0 205.5,294.0 200.5,291.5 199.2,286.5 201.8,281.5 205.5,279.0"/>
<polygon fill="#ffffb4" points="193.0,276.5 196.8,277.8 195.5,284.0 193.0,285.2"/>
<polygon fill="#1ac8ff" points="263.0,284.0 268.0,282.1 273.0,284.0 276.8,287.8 274.2,289.6 270.5,286.5 266.8,286.5 264.2,287.8"/>
<polygon fill="#1ac8ff" points="279.2,274.0 283.0,272.8 288.0,280.2 293.0,286.5 299.2,291.5 305.5,297.8 310.5,302.8 316.8,306.5 321.8,305.2 321.8,329.0 283.0,329.0 285.5,321.5 283.0,316.5 283.0,306.5 282.4,294.0 280.5,284.0"/>
<polygon fill="#b4ffff" points="286.8,301.5 291.8,300.2 293.0,306.5 291.8,312.8 288.0,311.5"/>
<polygon fill="#b4ff00" points="200.5,282.8 205.5,279.6 208.0,274.0 208.6,268.4 213.6,268.4 214.9,275.2 218.0,281.5 221.8,286.5 223.0,290.2 218.0,292.1 211.8,294.0 205.5,293.4 201.8,290.9 199.9,287.1"/>
<polygon fill="#1a78ff" points="278.0,274.0 280.5,273.4 282.4,281.5 283.6,294.0 285.5,306.5 286.1,316.5 283.6,317.8 282.4,306.5 281.1,294.0 279.2,281.5"/>
<polygon fill="#1a78ff" points="290.5,294.0 295.5,292.8 299.2,297.8 303.0,302.8 305.5,306.5 300.5,310.2 295.5,312.8 291.8,309.0 290.5,301.5"/>
<polygon fill="#1a78ff" points="298.0,319.0 305.5,315.2 311.8,316.5 318.0,319.0 321.8,321.5 321.8,329.0 299.2,329.0 296.8,324.0"/>
<polygon fill="#1a78ff" points="193.0,310.2 198.0,307.8 201.8,311.5 206.8,312.8 210.5,311.5 215.5,314.0 223.0,310.2 224.2,304.0 229.2,301.5 234.2,304.0 236.8,309.0 238.0,315.2 235.5,320.2 230.5,324.0 225.5,326.5 218.0,329.0 193.0,329.0"/>
<polygon fill="#00ff00" points="208.0,270.2 211.8,269.6 213.6,274.0 215.5,279.0 214.2,280.9 211.8,277.8 209.2,274.0"/>
<polygon fill="#00ff00" points="204.9,290.2 209.2,289.6 214.2,290.9 218.0,292.8 216.8,295.2 211.8,294.6 206.8,293.4"/>
<polygon fill="#ffffb4" points="215.5,312.8 219.2,314.0 223.0,319.0 225.5,324.0 223.0,325.2 219.2,321.5 216.8,317.8"/>
<polygon fill="#ffffb4" points="243.0,321.5 248.0,320.9 248.6,325.2 244.2,325.9"/>
<polygon fill="#1a50c8" points="293.0,306.5 296.8,305.2 300.5,307.8 298.0,311.5 294.2,312.1"/>
<polygon fill="#1a50c8" points="300.5,320.2 305.5,318.4 310.5,319.0 309.2,322.8 303.0,324.0"/>
<polygon fill="#1a50c8" points="193.0,316.5 196.8,315.2 200.5,319.0 198.0,322.8 193.0,324.0"/>
<polygon fill="#1a50c8" points="224.2,305.2 228.0,304.0 230.5,310.2 233.0,316.5 230.5,321.5 226.8,319.0 225.5,312.8"/>
<polygon fill="#1ac8ff" points="229.2,310.2 233.0,309.0 234.2,312.8 231.8,314.6 229.2,313.4"/>
<polygon fill="#1ac8ff" points="200.5,320.2 205.5,319.0 209.2,322.8 205.5,325.2 201.8,324.0"/>
<polygon fill="#1a32c8" points="193.0,268.4 200.5,268.4 198.0,271.5 193.0,273.4"/>
<polygon fill="#ffb4ff" points="224.2,294.0 228.0,293.4 231.8,297.1 233.0,300.2 229.2,299.0 226.1,297.1"/>
<polygon fill="#ff64ff" points="201.8,297.8 205.5,295.9 209.2,295.2 210.5,297.8 208.0,300.2 209.2,304.0 206.8,307.8 203.0,309.0 200.5,306.5 201.8,301.5"/>
<polygon fill="#ff64ff" points="216.8,290.2 221.8,289.6 225.5,292.8 226.1,297.8 223.0,301.5 221.8,306.5 223.0,311.5 220.5,312.8 216.8,309.0 214.9,305.2 218.0,301.5 217.4,296.5"/>
<polygon fill="#b4ff00" points="210.5,298.4 214.9,297.8 216.1,300.9 213.0,302.8 210.5,301.5"/>
<polygon fill="#1a50c8" points="203.0,299.0 205.5,297.1 208.0,298.4 206.8,301.5 204.2,302.1"/>
<polygon fill="#c814c8" points="193.0,273.4 198.0,271.5 200.5,268.4 202.4,268.4 199.2,272.8 193.0,275.2"/>
</g>
<g clip-path="url(#k12)">
<rect x="65" y="328" width="128" height="59" fill="#dcdcdc"/>
<polygon fill="#b4ffff" points="70.6,327.4 193.8,327.4 193.8,388.0 163.8,388.0 161.2,381.8 156.2,379.2 150.0,378.0 145.0,379.2 140.0,381.8 135.0,384.2 130.0,383.0 125.0,380.5 121.2,378.0 117.5,375.5 113.8,371.8 110.0,368.0 108.1,363.0 110.0,359.2 108.8,354.9 103.8,351.1 97.5,348.0 92.5,344.9 87.5,344.2 82.5,346.8 77.5,348.6 72.5,347.4 68.8,344.9 69.4,338.0"/>
<polygon fill="#b4ffff" points="101.2,373.0 103.8,372.4 104.4,375.5 101.9,376.1"/>
<polygon fill="#b4ffff" points="107.5,380.5 112.5,379.2 113.8,383.0 108.8,383.6"/>
<polygon fill="#dcdcdc" points="107.5,334.9 115.0,333.0 122.5,335.5 125.0,339.2 120.0,340.5 112.5,338.0"/>
<polygon fill="#dcdcdc" points="123.8,351.1 132.5,349.2 142.5,351.1 146.2,355.5 140.0,358.0 132.5,356.1 126.2,354.2"/>
<polygon fill="#1ac8ff" points="112.5,339.2 117.5,338.6 121.2,341.8 120.0,345.5 115.0,346.8 113.8,343.0"/>
<polygon fill="#1ac8ff" points="80.0,333.0 83.8,330.5 85.0,331.8 81.2,335.5"/>
<polygon fill="#1ac8ff" points="130.0,364.2 135.0,361.8 137.5,364.2 133.8,368.0 130.0,369.2"/>
<polygon fill="#1ac8ff" points="136.2,373.0 138.8,369.2 141.2,370.5 140.0,375.5 137.5,376.1"/>
<polygon fill="#1ac8ff" points="125.0,338.0 130.0,334.2 135.0,331.8 142.5,330.5 147.5,333.0 145.0,336.8 140.0,339.2 135.0,344.2 130.0,348.0 126.9,345.5"/>
<polygon fill="#1a78ff" points="98.8,333.0 102.5,329.2 107.5,327.4 115.0,327.4 112.5,330.5 106.2,332.4 101.2,334.9"/>
<polygon fill="#1a78ff" points="100.0,327.4 147.5,327.4 150.0,333.0 145.0,336.8 140.0,338.0 132.5,339.2 125.0,339.2 117.5,336.8 110.0,335.5 102.5,334.2"/>
<polygon fill="#1a78ff" points="126.2,340.5 127.5,336.8 132.5,333.0 140.0,330.5 147.5,327.4 193.8,327.4 193.8,383.6 177.5,386.8 171.2,386.8 165.0,383.0 160.0,378.0 155.0,375.5 151.2,373.0 148.1,368.0 145.0,364.2 147.5,361.1 152.5,359.9 158.8,358.6 163.8,357.4 152.5,353.0 151.2,348.0 146.2,344.2 142.5,340.5 137.5,339.2 132.5,341.8 128.8,345.5 126.9,344.2"/>
<polygon fill="#1ac8ff" points="141.2,340.5 146.2,339.2 152.5,338.0 160.0,335.5 163.8,338.0 165.0,343.0 163.8,346.8 168.8,349.2 170.6,354.2 166.2,356.8 161.2,354.9 156.2,350.5 152.5,346.8 147.5,344.2"/>
<polygon fill="#1ac8ff" points="180.0,341.8 185.0,339.2 190.0,336.8 193.8,335.5 193.8,340.5 187.5,344.2 183.8,348.0 181.2,346.8"/>
<polygon fill="#b4ffff" points="142.5,340.5 146.2,339.9 148.8,344.2 151.2,348.0 150.0,351.8 147.5,349.2 145.0,345.5"/>
<polygon fill="#b4ffff" points="160.0,349.2 165.0,348.0 168.8,350.5 169.4,354.2 165.0,356.1 161.2,354.2"/>
<polygon fill="#1a50c8" points="165.0,356.8 170.0,355.5 177.5,356.8 182.5,359.2 185.0,354.2 193.8,353.0 193.8,380.5 187.5,381.8 182.5,380.5 177.5,378.0 171.2,376.8 165.0,375.5 160.0,373.0 157.5,369.2 152.5,366.8 147.5,365.5 146.2,363.0 152.5,361.8 160.0,360.5"/>
<polygon fill="#1a32c8" points="166.2,359.2 172.5,357.4 180.0,359.2 185.0,358.0 193.8,356.8 193.8,378.0 187.5,379.2 181.2,378.0 175.0,375.5 170.0,371.8 166.2,366.8"/>
<polygon fill="#1a32c8" points="187.5,355.5 193.8,354.9 193.8,365.5 188.8,364.2 186.9,359.2"/>
<polygon fill="#b4ffff" points="158.8,364.2 163.8,363.0 165.0,366.8 161.2,368.0 158.8,366.8"/>
<polygon fill="#b4ffff" points="175.0,370.5 178.8,371.1 178.1,373.6 175.0,373.0"/>
<polygon fill="#b4ffff" points="182.5,348.0 186.2,346.8 186.9,356.8 183.8,358.0"/>
<polygon fill="#ff64ff" points="173.8,327.4 185.0,327.4 188.8,330.5 185.0,331.8 180.0,329.9"/>
</g>
<g clip-path="url(#k13)">
<rect x="193" y="328" width="128" height="59" fill="#dcdcdc"/>
<polygon fill="#b4ffff" points="193.0,374.2 200.5,376.8 208.0,376.8 218.0,374.2 228.0,370.5 235.5,368.0 243.0,365.5 248.0,360.5 253.0,358.0 258.0,359.2 260.5,365.5 258.0,370.5 253.0,373.0 245.5,374.2 238.0,376.8 230.5,378.0 223.0,380.5 218.0,383.0 215.5,388.0 193.0,388.0"/>
<polygon fill="#b4ffff" points="273.0,339.2 280.5,331.8 285.5,327.4 321.8,327.4 321.8,388.0 311.8,388.0 309.2,378.0 305.5,368.0 301.8,363.0 293.0,362.4 289.2,359.2 291.8,353.0 290.5,345.5 286.8,339.2 283.0,335.5 278.0,338.0 274.2,343.0"/>
<polygon fill="#ffffb4" points="270.5,349.2 274.2,345.5 276.8,348.0 280.5,354.2 285.5,359.2 283.0,360.5 278.0,356.8 273.0,353.0"/>
<polygon fill="#1ac8ff" points="278.0,373.0 280.5,368.0 288.0,365.5 295.5,364.2 301.8,363.0 305.5,365.5 309.2,359.2 313.0,355.5 315.5,358.0 311.8,365.5 310.5,373.0 313.0,380.5 318.0,385.5 321.8,388.0 275.5,388.0 276.8,380.5"/>
<polygon fill="#1ac8ff" points="300.5,334.2 305.5,330.5 310.5,327.4 318.0,327.4 313.0,333.0 309.2,336.8 305.5,340.5 301.8,339.2"/>
<polygon fill="#1ac8ff" points="303.0,350.5 305.5,349.2 306.8,353.0 304.2,354.2"/>
<polygon fill="#1a78ff" points="193.0,327.4 205.5,327.4 209.2,331.8 218.0,333.0 225.5,330.5 234.2,331.8 238.0,338.0 240.5,343.0 245.5,345.5 251.8,346.8 255.5,351.8 258.0,356.8 253.0,358.0 248.0,360.5 243.0,365.5 235.5,369.2 228.0,373.0 218.0,378.0 208.0,381.1 200.5,383.0 193.0,383.0"/>
<polygon fill="#1a78ff" points="225.5,376.1 229.2,374.2 229.9,376.1 226.8,378.0"/>
<polygon fill="#1a78ff" points="279.2,378.0 280.5,370.5 288.0,368.0 295.5,366.8 301.8,366.8 305.5,370.5 308.0,378.0 313.0,383.0 318.0,388.0 276.8,388.0"/>
<polygon fill="#1a78ff" points="303.0,333.0 308.0,329.2 313.0,327.4 315.5,329.2 310.5,333.0 306.8,336.8 304.2,335.5"/>
<polygon fill="#1ac8ff" points="200.5,344.2 205.5,343.0 209.2,339.2 213.0,335.5 218.0,334.2 221.8,340.5 224.2,346.8 225.5,351.8 220.5,350.5 215.5,353.0 211.8,355.5 206.8,354.2 203.0,351.8 200.5,348.0"/>
<polygon fill="#1ac8ff" points="230.5,343.0 235.5,341.8 239.2,346.8 238.0,350.5 233.0,348.0"/>
<polygon fill="#b4ffff" points="205.5,348.0 211.8,344.2 215.5,346.8 214.2,351.8 209.2,354.2 205.5,351.8"/>
<polygon fill="#b4ffff" points="211.8,333.0 218.0,334.2 216.8,338.0 213.0,336.8"/>
<polygon fill="#b4ffff" points="231.8,343.6 234.9,343.0 236.8,346.8 234.2,348.0"/>
<polygon fill="#ffffb4" points="236.8,333.0 243.0,330.5 248.0,331.8 253.0,335.5 258.0,336.8 263.0,335.5 265.5,340.5 268.0,346.8 264.2,348.0 260.5,346.8 255.5,344.2 249.2,344.2 243.0,343.0 238.0,340.5 236.1,336.8"/>
<polygon fill="#b4ff00" points="243.0,332.4 245.5,331.8 244.9,336.8 243.6,338.0"/>
<polygon fill="#1a50c8" points="193.0,356.8 200.5,359.2 208.0,360.5 218.0,359.2 225.5,356.8 233.0,353.0 240.5,348.0 248.0,346.8 253.0,349.2 255.5,353.0 256.8,356.8 251.8,358.0 246.8,361.1 241.8,365.5 234.2,368.0 226.8,371.1 218.0,375.5 208.0,378.6 200.5,379.9 193.0,379.2"/>
<polygon fill="#1a50c8" points="193.0,335.5 198.0,333.0 203.0,335.5 200.5,340.5 196.8,344.2 193.0,345.5"/>
<polygon fill="#1a50c8" points="218.0,333.0 225.5,330.5 234.2,331.8 236.8,336.8 234.2,341.8 229.2,340.5 224.2,336.8 220.5,335.5"/>
<polygon fill="#1a50c8" points="280.5,380.5 285.5,376.8 293.0,375.5 300.5,378.0 305.5,383.0 309.2,388.0 278.0,388.0"/>
<polygon fill="#1a32c8" points="193.0,364.2 200.5,365.5 208.0,365.5 218.0,364.2 225.5,361.8 233.0,359.9 235.5,363.0 231.8,368.0 225.5,370.5 218.0,372.4 208.0,374.2 200.5,374.9 193.0,374.2"/>
<polygon fill="#1a32c8" points="195.5,365.5 203.0,366.8 209.2,369.2 205.5,373.0 198.0,371.8 194.2,369.2"/>
<polygon fill="#1a32c8" points="283.0,379.2 288.0,378.0 289.2,383.0 286.8,386.8 283.0,385.5"/>
<polygon fill="#b4ffff" points="216.8,360.5 219.9,361.1 219.9,364.2 217.4,364.2"/>
<polygon fill="#ffb4ff" points="248.0,335.5 251.8,336.1 255.5,340.5 253.0,341.8 249.9,339.2"/>
<polygon fill="#ff64ff" points="249.2,336.8 253.0,338.0 258.0,341.8 263.0,346.8 268.0,350.5 270.5,354.2 275.5,356.8 280.5,360.5 288.0,364.2 285.5,366.8 280.5,368.0 278.0,373.0 275.5,378.0 273.0,384.2 270.5,388.0 268.0,381.8 265.5,375.5 261.8,368.0 258.0,363.0 259.2,358.0 255.5,353.0 253.0,348.0 250.5,343.0"/>
<polygon fill="#ffb4ff" points="268.0,375.5 271.8,373.0 275.5,375.5 274.2,383.0 271.1,388.0 268.6,383.0"/>
<polygon fill="#ff3cff" points="291.8,381.1 295.5,379.5 300.5,380.5 299.2,383.0 294.2,383.2"/>
</g>
<g clip-path="url(#k14)">
<rect x="321" y="151" width="252" height="118" fill="#b4ffff"/>
<polygon fill="#dcdcdc" points="321.0,193.5 326.0,196.0 333.5,203.5 343.5,213.5 351.0,223.5 356.0,233.5 358.5,246.0 362.2,256.0 371.0,263.5 378.5,271.0 321.0,271.0"/>
<polygon fill="#dcdcdc" points="321.0,161.0 324.8,162.2 323.5,171.0 321.0,172.2"/>
<polygon fill="#dcdcdc" points="359.8,171.0 364.8,173.5 371.0,183.5 378.5,193.5 384.8,206.0 388.5,216.0 392.2,219.8 387.2,218.5 381.0,208.5 373.5,198.5 366.0,188.5 361.0,178.5"/>
<polygon fill="#dcdcdc" points="468.5,161.0 473.5,161.0 479.8,166.0 477.2,168.5 471.0,164.8"/>
<polygon fill="#dcdcdc" points="564.8,228.5 573.5,226.0 573.5,233.5 566.0,233.5"/>
<polygon fill="#dcdcdc" points="511.0,262.2 521.0,262.2 533.5,263.5 546.0,264.0 556.0,264.8 573.5,266.0 573.5,271.0 518.5,271.0"/>
<polygon fill="#1ac8ff" points="324.8,156.0 327.2,156.0 329.8,166.0 332.2,171.0 329.8,171.0 326.5,164.8"/>
<polygon fill="#1ac8ff" points="338.5,156.0 340.5,156.0 343.5,168.5 346.0,176.0 343.5,176.0 340.5,166.0"/>
<polygon fill="#1ac8ff" points="344.8,158.5 347.2,158.5 349.8,171.0 348.0,172.2"/>
<polygon fill="#1ac8ff" points="351.0,161.0 353.5,161.0 357.2,176.0 361.0,188.5 364.8,201.0 369.8,213.5 373.5,223.5 369.8,222.2 364.8,211.0 359.8,198.5 356.0,186.0 353.0,173.5"/>
<polygon fill="#1ac8ff" points="364.8,194.8 368.5,196.0 374.8,206.0 382.2,218.5 391.0,231.0 398.5,241.0 402.2,247.2 398.5,246.0 391.0,236.0 382.2,223.5 373.5,211.0 367.2,201.0"/>
<polygon fill="#1ac8ff" points="414.8,168.5 417.2,168.5 421.0,174.8 419.8,177.2 416.0,173.5"/>
<polygon fill="#1ac8ff" points="426.0,177.2 431.0,176.0 433.0,184.8 431.0,188.5 427.2,184.8"/>
<polygon fill="#1ac8ff" points="434.8,171.0 438.5,168.5 441.0,172.2 437.2,176.0"/>
<polygon fill="#1ac8ff" points="427.2,151.0 429.0,151.0 428.5,161.0 427.2,161.0"/>
<polygon fill="#1ac8ff" points="438.5,151.0 440.5,151.0 440.5,156.0 438.5,156.0"/>
<polygon fill="#1ac8ff" points="508.5,188.5 511.0,188.5 519.8,198.5 518.5,199.8"/>
<polygon fill="#1ac8ff" points="484.8,216.0 491.0,216.0 501.0,221.0 499.8,223.5 491.0,221.0 484.8,218.5"/>
<polygon fill="#1ac8ff" points="526.0,226.0 533.5,227.2 546.0,231.0 558.5,232.2 557.2,234.8 546.0,233.5 533.5,231.0 526.0,228.5"/>
<polygon fill="#1ac8ff" points="564.8,239.8 573.5,239.8 573.5,242.2 566.0,241.5"/>
<polygon fill="#1ac8ff" points="416.0,247.2 418.5,247.2 426.0,253.5 424.8,254.8"/>
<polygon fill="#1ac8ff" points="486.0,249.8 491.0,249.8 499.8,254.8 498.5,256.0 491.0,253.0"/>
<polygon fill="#1ac8ff" points="476.0,246.0 481.0,247.2 496.0,256.0 511.0,263.5 521.0,271.0 513.5,271.0 501.0,262.2 488.5,254.8 478.5,249.8"/>
<polygon fill="#1ac8ff" points="548.5,191.0 553.5,191.0 563.5,194.8 563.0,197.2 553.5,194.8"/>
<polygon fill="#1ac8ff" points="536.0,198.5 539.8,199.0 539.2,200.5 536.0,200.0"/>
<polygon fill="#1a78ff" points="353.5,183.5 357.2,186.0 362.2,198.5 367.2,209.8 372.2,219.8 369.8,221.0 364.8,211.0 359.8,199.8 355.5,189.8"/>
<polygon fill="#1a78ff" points="422.2,236.0 426.0,236.0 436.0,243.5 448.5,253.5 461.0,261.0 466.0,266.0 461.0,264.8 448.5,257.2 436.0,248.5 426.0,241.0"/>
<polygon fill="#1a78ff" points="412.2,151.0 414.0,151.0 414.0,166.0 412.5,166.0"/>
<polygon fill="#1a78ff" points="450.5,151.0 452.2,151.0 452.2,174.8 450.8,174.8"/>
<polygon fill="#1a78ff" points="481.0,249.8 486.0,251.0 501.0,259.8 516.0,268.0 511.0,268.0 496.0,261.0 483.5,253.5"/>
<polygon fill="#1a78ff" points="552.2,192.2 557.2,192.2 563.5,195.5 562.2,196.8 556.0,195.0"/>
</g>
<g clip-path="url(#k15)">
<rect x="321" y="269" width="252" height="118" fill="#dcdcdc"/>
<polygon fill="#b4ffff" points="377.2,267.8 573.5,267.8 573.5,341.5 568.5,346.5 563.5,359.0 556.0,366.5 546.0,369.0 533.5,371.5 521.0,370.2 508.5,367.8 498.5,361.5 491.0,354.0 483.5,346.5 476.0,341.5 468.5,340.2 461.0,336.5 451.0,335.2 441.0,337.8 433.5,340.2 426.0,344.0 431.0,349.0 438.5,354.0 446.0,359.0 451.0,366.5 456.0,374.0 451.0,379.0 443.5,384.0 438.5,389.0 378.5,389.0 383.5,379.0 388.5,371.5 389.8,364.0 392.2,354.0 383.5,346.5 379.8,341.5 377.2,331.5 379.8,322.8 371.0,316.5 361.0,312.8 351.0,312.8 346.0,317.8 348.5,329.0 346.0,344.0 347.2,354.0 343.5,357.8 337.2,354.0 338.5,341.5 331.0,344.0 321.0,350.2 321.0,297.8 328.5,299.0 336.0,305.2 346.0,309.0 356.0,300.2 363.5,292.8 371.0,284.0 374.8,276.5"/>
<polygon fill="#b4ffff" points="321.0,366.5 324.8,374.0 328.5,389.0 321.0,389.0"/>
<polygon fill="#dcdcdc" points="513.5,267.8 573.5,267.8 573.5,286.5 561.0,280.2 546.0,274.0 528.5,270.2"/>
<polygon fill="#1ac8ff" points="513.5,269.0 518.5,269.0 523.5,271.5 521.0,273.5 516.0,271.5"/>
<polygon fill="#1ac8ff" points="526.0,276.5 533.5,277.8 546.0,282.8 558.5,286.5 573.5,290.2 573.5,295.2 558.5,291.5 546.0,286.5 533.5,281.5 526.0,279.0"/>
<polygon fill="#1ac8ff" points="492.2,302.8 496.0,302.8 508.5,309.0 521.0,314.0 526.0,316.5 523.5,317.8 511.0,314.0 498.5,309.0 492.2,305.2"/>
<polygon fill="#1ac8ff" points="321.0,315.2 326.0,314.0 333.5,312.8 337.2,315.2 331.0,319.0 323.5,319.0"/>
<polygon fill="#1ac8ff" points="321.0,322.8 324.8,322.8 324.8,326.5 321.0,327.0"/>
<polygon fill="#1ac8ff" points="336.0,321.5 339.8,319.0 342.2,326.5 343.5,334.0 341.0,337.8 338.0,331.5"/>
<polygon fill="#1ac8ff" points="379.8,305.2 382.2,305.2 386.0,312.8 387.2,316.5 384.8,315.2"/>
<polygon fill="#1ac8ff" points="377.2,314.0 379.0,314.0 379.0,317.0 377.2,317.0"/>
<polygon fill="#1ac8ff" points="407.2,341.0 409.0,341.0 409.0,343.5 407.2,343.5"/>
<polygon fill="#1ac8ff" points="414.8,344.0 416.5,344.0 416.5,348.5 414.8,348.5"/>
<polygon fill="#1ac8ff" points="427.2,347.8 429.0,347.8 429.0,350.2 427.2,350.2"/>
<polygon fill="#1ac8ff" points="406.0,355.2 409.0,355.2 409.0,359.0 406.0,359.0"/>
<polygon fill="#1ac8ff" points="412.2,363.5 414.8,363.5 414.8,366.5 412.2,366.5"/>
<polygon fill="#1ac8ff" points="419.8,365.2 422.2,365.2 423.0,369.0 420.5,369.0"/>
<polygon fill="#1ac8ff" points="418.5,350.2 422.2,350.2 426.0,355.2 431.0,359.0 434.8,362.8 431.0,366.5 427.2,361.5 422.2,356.5 419.0,354.0"/>
<polygon fill="#1ac8ff" points="432.2,375.2 436.0,372.8 439.8,376.5 436.0,381.5 433.0,380.2"/>
<polygon fill="#1a78ff" points="546.0,282.8 558.5,287.0 573.5,291.5 573.5,294.0 558.5,290.2 546.0,285.2"/>
<polygon fill="#1a78ff" points="496.0,304.5 508.5,309.8 521.0,314.8 519.8,316.0 507.2,311.5 496.0,306.5"/>
<polygon fill="#1a78ff" points="326.0,315.2 332.2,314.5 334.8,316.0 329.8,317.8"/>
<polygon fill="#1a78ff" points="338.0,322.8 340.0,322.8 341.5,331.5 340.0,334.5 338.5,329.0"/>
<polygon fill="#1a78ff" points="419.8,351.5 422.2,352.0 424.0,355.2 421.0,354.5"/>
<polygon fill="#1a78ff" points="428.5,359.5 431.0,360.2 431.5,364.5 429.0,363.5"/>
<polygon fill="#1a78ff" points="434.0,376.5 436.0,376.0 436.5,379.5 434.0,379.5"/>
</g>
<g clip-path="url(#k16)">
<rect x="65" y="387" width="256" height="73" fill="#dcdcdc"/>
<polygon fill="#b4ffff" points="107.5,386.2 227.5,386.2 225.0,388.8 215.0,388.0 205.0,387.0 165.0,388.8 160.0,392.0 152.5,388.0 140.0,387.0 115.0,390.5"/>
<polygon fill="#b4ffff" points="68.8,428.8 72.5,426.2 81.2,424.5 82.5,426.2 75.0,430.0 70.0,433.0"/>
<polygon fill="#b4ffff" points="220.0,453.8 223.8,453.8 223.8,457.5 220.0,457.5"/>
<polygon fill="#b4ffff" points="272.5,423.8 280.0,422.5 290.0,425.0 300.0,422.5 306.2,420.0 311.2,428.8 312.5,437.5 315.0,445.0 310.0,447.5 302.5,446.2 290.0,442.5 280.0,440.0 272.5,438.8 273.8,430.0"/>
<polygon fill="#b4ffff" points="263.8,380.0 322.5,380.0 322.5,432.5 312.5,430.0 307.5,421.2 300.0,420.0 290.0,418.8 281.2,411.2 276.2,401.2 271.2,393.8 266.2,388.8"/>
<polygon fill="#1ac8ff" points="266.2,380.0 322.5,380.0 322.5,430.0 312.5,428.8 307.5,420.0 300.0,418.8 290.0,417.5 282.5,410.0 277.5,400.0 272.5,392.5 268.0,387.5"/>
<polygon fill="#1a78ff" points="272.5,380.0 322.5,380.0 322.5,395.0 312.5,402.5 305.0,407.5 295.0,411.2 287.5,407.5 282.5,400.0 277.5,392.5 273.8,386.2"/>
<polygon fill="#1a50c8" points="277.5,380.0 312.5,380.0 311.2,387.5 305.0,395.0 297.5,398.8 290.0,397.5 283.8,392.5 280.0,386.2"/>
<polygon fill="#1a32c8" points="285.0,380.0 305.0,380.0 306.2,385.0 302.5,391.2 295.0,392.5 288.8,388.8"/>
<polygon fill="#ffb4ff" points="267.0,380.0 273.8,380.0 274.5,383.8 270.0,386.2 267.0,383.8"/>
<polygon fill="#ff3cff" points="291.2,380.0 300.0,380.0 298.8,383.0 292.5,383.8"/>
<polygon fill="#ff3cff" points="281.2,390.0 285.0,388.8 285.5,391.2 282.0,392.5"/>
</g>
<g clip-path="url(#k17)">
<rect x="321" y="387" width="252" height="73" fill="#dcdcdc"/>
<polygon fill="#b4ffff" points="321.0,380.0 333.5,380.0 336.0,390.0 337.2,405.0 338.5,422.5 334.8,435.0 328.5,438.8 321.0,438.8"/>
<polygon fill="#b4ffff" points="371.0,387.0 378.5,380.0 461.0,380.0 466.0,390.0 471.0,400.0 476.0,407.5 476.0,420.0 471.0,425.0 463.5,428.8 456.0,430.0 446.0,433.8 438.5,431.2 431.0,433.8 426.0,431.2 421.0,430.0 416.0,436.2 406.0,438.8 396.0,442.5 392.2,448.8 386.0,455.0 378.5,456.2 371.0,455.0 366.0,452.5 364.8,442.5 363.5,430.0 366.0,417.5 368.5,402.5"/>
<polygon fill="#dcdcdc" points="401.0,380.0 407.2,380.0 408.5,395.0 411.0,407.5 416.0,417.5 423.5,427.5 421.0,430.0 413.5,427.5 407.2,417.5 403.5,405.0 401.5,392.5"/>
<polygon fill="#1ac8ff" points="321.0,382.5 328.5,385.0 331.0,395.0 330.5,410.0 326.0,422.5 321.0,427.5"/>
<polygon fill="#1ac8ff" points="431.0,380.0 437.2,380.0 436.0,383.8 432.2,383.0"/>
<polygon fill="#1ac8ff" points="438.5,385.0 442.2,383.8 446.0,390.0 441.0,393.8 438.5,390.0"/>
<polygon fill="#1ac8ff" points="387.2,395.0 391.0,395.0 391.5,403.8 388.0,403.8"/>
<polygon fill="#1ac8ff" points="377.2,397.5 379.8,397.5 379.8,400.5 377.2,400.5"/>
<polygon fill="#1ac8ff" points="376.0,408.0 379.0,408.0 379.0,411.2 376.0,411.2"/>
<polygon fill="#1ac8ff" points="382.2,423.8 388.5,422.5 389.0,427.5 383.5,430.0"/>
<polygon fill="#1ac8ff" points="402.2,426.2 408.5,424.5 409.8,428.8 404.8,433.8 401.0,431.2"/>
<polygon fill="#1ac8ff" points="393.5,436.2 401.0,433.8 402.2,437.5 396.0,440.0"/>
<polygon fill="#1ac8ff" points="371.0,436.2 374.8,437.0 372.2,441.2 369.8,440.0"/>
<polygon fill="#1ac8ff" points="372.2,442.5 376.0,438.8 382.2,437.5 381.0,443.8 376.0,450.0 372.2,452.5 371.0,447.5"/>
<polygon fill="#1ac8ff" points="451.0,427.5 454.8,427.0 454.8,431.2 451.5,432.0"/>
<polygon fill="#1ac8ff" points="461.0,425.0 464.0,424.5 464.5,427.5 461.5,428.0"/>
<polygon fill="#1a78ff" points="321.0,387.5 324.8,390.0 326.0,400.0 324.8,408.8 321.0,412.5"/>
<polygon fill="#1a78ff" points="384.8,433.8 391.0,432.5 393.5,437.5 391.0,443.8 386.0,445.0 384.8,440.0"/>
<polygon fill="#1a78ff" points="429.8,426.2 436.0,423.8 446.0,422.5 448.5,424.5 441.0,427.0 433.5,428.8 429.8,428.8"/>
<polygon fill="#1a78ff" points="374.8,442.5 379.8,440.0 379.8,443.8 376.0,448.8 373.5,447.5"/>
<polygon fill="#1a78ff" points="383.5,425.0 387.2,424.5 387.2,427.5 384.0,428.0"/>
</g>
<g clip-path="url(#k18)">
<rect x="65" y="244" width="128" height="25" fill="#dcdcdc"/>
<polygon fill="#b4ffff" points="115.1,260.5 117.6,260.5 117.6,263.9 115.1,263.9"/>
<polygon fill="#b4ffff" points="97.6,265.6 100.7,265.6 100.7,270.3 98.1,270.3"/>
<polygon fill="#ffffb4" points="65.1,230.0 76.9,230.0 77.8,240.2 76.9,250.3 76.1,263.9 70.2,264.7 65.9,263.9"/>
<polygon fill="#ffffb4" points="82.0,240.2 85.4,236.8 90.5,238.5 91.4,250.3 90.5,263.9 88.8,272.4 83.7,270.7 82.9,255.4"/>
<polygon fill="#ffffb4" points="115.9,269.0 119.3,255.4 122.7,243.6 124.4,230.0 194.7,230.0 194.7,280.8 161.7,280.8 160.0,272.4 154.9,270.7 148.1,272.4 141.4,269.0 139.7,260.5 144.7,255.4 141.4,246.9 134.6,252.0 131.2,260.5 134.6,263.9 136.3,274.1 127.8,279.2 124.4,275.8 125.3,267.3 121.0,270.7"/>
<polygon fill="#b4ff00" points="118.5,263.9 121.0,253.7 124.4,241.9 126.1,230.0 194.7,230.0 194.7,279.2 165.1,279.2 161.7,270.7 156.6,267.3 160.0,260.5 161.7,253.7 158.3,257.1 151.5,262.2 148.1,257.1 143.1,250.3 141.4,240.2 138.0,243.6 134.6,250.3 131.2,257.1 127.8,260.5 124.4,262.2 121.0,266.4"/>
<polygon fill="#b4ff00" points="125.3,266.4 127.8,262.2 132.9,260.5 136.3,263.9 134.6,270.7 129.5,275.8 126.1,274.9"/>
<polygon fill="#00ff00" points="121.0,255.4 125.3,243.6 127.8,230.0 148.1,230.0 144.7,236.8 139.7,241.9 136.3,240.2 134.6,246.9 131.2,253.7 127.8,257.1 124.4,258.8"/>
<polygon fill="#00ff00" points="154.9,269.0 161.7,255.4 165.1,246.9 168.5,238.5 168.5,230.0 194.7,230.0 194.7,277.5 168.5,277.5 163.4,270.7 160.0,272.4"/>
<polygon fill="#00a000" points="176.9,255.4 182.0,253.7 183.7,258.0 178.6,259.7"/>
<polygon fill="#dcdcdc" points="141.4,240.2 148.1,235.1 156.6,236.8 161.7,243.6 160.0,252.0 154.9,258.8 148.1,257.1 143.1,250.3"/>
<polygon fill="#ffb4ff" points="90.5,252.0 96.4,251.7 96.4,255.4 91.4,255.8"/>
<polygon fill="#ff64ff" points="94.7,246.1 98.1,240.2 104.1,236.8 107.5,238.5 104.1,243.6 99.8,246.9 97.3,250.3"/>
<polygon fill="#1a78ff" points="126.9,267.3 129.5,263.1 133.7,262.2 134.6,265.6 132.0,270.7 127.8,272.4"/>
<polygon fill="#ff3cff" points="141.4,258.8 144.7,257.1 151.5,263.9 156.6,266.4 154.9,269.0 148.1,268.1 143.1,263.9"/>
<polygon fill="#1a78ff" points="144.7,261.4 148.1,263.1 152.4,266.4 149.8,267.3 145.6,264.7"/>
<polygon fill="#1a32c8" points="176.9,274.1 182.0,270.7 194.7,268.1 194.7,272.4 182.0,274.9 178.6,277.5"/>
</g>
</g></g>
<g fill="none" stroke="#1a1a1a" stroke-width="0.9" stroke-linejoin="round">
<polyline points="125.0,127.5 127.5,125.5 132.5,126.0 137.5,127.5 141.2,128.0 140.0,123.0 142.5,119.2 145.5,115.5 143.8,110.5 146.2,106.8 143.8,101.8 147.5,103.0 151.2,99.2 155.0,100.5 157.5,94.2 161.2,91.8 160.0,86.8 166.2,89.2 170.0,83.0 168.8,79.2 163.8,78.0 158.8,76.8 161.2,70.5 161.2,64.2 163.8,59.2 167.0,55.5 167.5,45.5 168.8,40.0 165.0,43.0 157.5,44.2 150.0,53.0 140.0,55.0 132.5,55.5 127.5,59.2 126.2,65.5 122.0,70.5 123.0,75.5 121.2,83.0 120.5,94.2 117.5,101.8 121.2,105.5 125.0,108.0 123.8,116.8 118.8,120.5 117.0,125.5 118.8,129.2 125.0,127.5"/>
<polyline points="141.2,128.0 145.0,129.2 147.5,133.0 145.5,139.2 150.0,141.8 152.5,144.2 158.0,145.5 161.2,148.0 165.0,144.2 168.8,143.0 170.0,146.8 167.5,151.0"/>
<polyline points="127.5,59.2 130.0,63.0 133.8,60.5 137.5,58.0 140.0,60.5 137.5,64.2 132.5,68.0 128.8,70.5 131.2,73.0 135.0,70.5 140.0,68.0 142.5,73.0 145.0,74.2"/>
<polyline points="148.8,109.2 152.5,106.8 158.8,106.2 163.8,109.2 165.0,115.5 163.8,120.5 158.8,123.5 152.5,123.0 148.8,119.2 147.5,114.2 148.8,109.2"/>
<polyline points="168.8,104.2 173.8,101.8 178.8,96.8 185.0,95.5 192.5,93.8 197.5,95.5 200.0,100.5 198.8,106.8 195.0,110.5 190.0,113.0 190.0,119.2 193.8,121.8 188.8,123.0 186.2,126.8 190.0,128.0 193.8,129.2 188.8,131.0 184.5,131.8 182.5,135.5 182.0,140.5 178.8,136.8 175.0,138.0 170.0,135.5 166.2,133.0 170.0,129.2 175.0,127.5 180.0,129.2 181.2,124.2 177.5,121.8 172.5,119.2 171.2,113.0 170.0,108.0 168.8,104.2"/>
<polyline points="182.5,101.8 184.5,97.5 188.0,97.0 189.0,101.8 187.5,106.8 184.0,107.5 182.5,101.8"/>
<polyline points="161.2,95.5 163.0,96.8 163.8,100.5 162.0,101.8 161.0,98.5 161.2,95.5"/>
<polyline points="160.0,133.0 162.0,128.0 164.5,123.0 165.5,121.8 164.5,126.8 162.0,133.0 160.0,134.2"/>
<polyline points="142.5,123.0 145.0,120.5 148.8,123.0 149.5,126.8 146.2,128.0 143.0,126.0 142.5,123.0"/>
<polyline points="120.5,86.8 123.8,88.0 124.5,91.8 122.0,93.0 120.5,86.8"/>
<polyline points="188.8,33.0 188.2,40.5 191.2,46.8 192.5,53.0 195.0,59.2 196.2,66.8 201.2,73.0 205.0,78.0 206.2,81.8 201.2,85.5 199.5,89.2 197.5,93.0 200.0,99.2 202.5,105.5 202.0,113.0 201.2,116.8 205.0,119.2 215.0,119.2 225.0,119.2 228.8,113.0 227.5,106.8 230.0,101.8 235.0,98.5 237.5,95.5 245.0,96.0 252.5,95.5 256.2,98.5 260.0,93.0 262.5,86.8 265.0,80.5 267.5,76.8 268.8,70.5 268.8,63.0 270.0,56.8 271.2,50.5 270.0,44.2 272.5,40.5 272.5,35.5 275.0,33.0"/>
<polyline points="278.8,60.0 277.0,65.5 273.8,73.0 270.0,80.5 267.5,86.8 266.2,93.0 268.8,94.2 271.2,85.5 275.0,75.5 278.0,68.0 279.5,61.8 278.8,60.0"/>
<polyline points="305.0,43.5 311.2,43.0 312.5,46.8 310.0,53.0 307.5,59.2 303.8,64.2 301.2,70.5 298.8,74.2 296.2,71.8 297.5,66.8 296.2,60.5 297.0,55.5 300.0,50.5 302.5,45.5 305.0,43.5"/>
<polyline points="234.5,124.2 237.5,122.5 242.0,128.0 240.0,133.0 236.2,131.8 233.0,128.0 234.5,124.2"/>
<polyline points="173.0,55.0 175.0,53.8 178.8,53.8 177.5,56.0 174.0,56.8 173.0,55.0"/>
<polyline points="237.5,33.0 235.0,38.0 232.5,43.0 230.0,44.2 229.5,40.5 231.2,35.5 232.5,33.0"/>
<polyline points="263.8,151.0 270.0,145.5 280.0,141.8 290.0,140.0 298.8,139.2 303.8,143.0 307.0,146.8 308.0,149.2"/>
<polyline points="188.8,151.0 192.5,146.8 197.5,145.5 201.2,148.0 205.0,145.5 207.5,141.8 210.0,143.0 212.5,145.5 213.8,149.2 214.5,151.0"/>
<polyline points="326.0,144.2 331.0,139.2 338.5,135.5 344.8,128.0 347.2,115.5 348.5,103.0 347.2,91.8 348.0,79.2 352.2,70.5 353.5,60.5 358.5,53.0 371.0,48.0 374.8,53.0 381.0,60.5 384.8,66.8 392.2,70.5 398.5,66.8 404.8,60.5 403.5,53.0 401.0,43.0 402.2,35.5 403.5,33.0"/>
<polyline points="401.0,40.5 408.5,36.8 416.0,35.0 421.0,36.8 428.5,39.2 433.5,44.2 438.5,48.0 443.5,45.5 451.0,46.8 454.8,48.0 453.0,43.0 456.0,38.0 461.0,35.5 466.0,34.2 464.8,33.0"/>
<polyline points="454.8,48.0 459.8,51.8 461.0,63.0 464.8,70.5 469.8,78.0 473.5,86.8 472.2,90.5"/>
<polyline points="347.2,99.2 353.5,94.2 361.0,91.0 371.0,89.2 381.0,89.2 388.5,91.0 396.0,90.0 403.5,91.8 408.5,89.2 413.5,86.8 417.2,91.8 423.5,94.2 431.0,96.8 438.5,103.0 443.5,106.8 451.0,103.0 458.5,100.5 466.0,95.5 472.2,90.5 478.5,93.0 483.5,91.0 491.0,93.0 496.0,99.2 503.5,94.2 513.5,94.2 521.0,99.2 524.8,108.0 527.2,115.5 524.8,123.0 531.0,128.0 536.0,135.5 542.2,141.8 547.2,144.2 548.5,151.0"/>
<polyline points="443.5,106.8 446.0,113.0 451.0,118.0 444.8,121.8 441.0,128.0 436.0,133.0 433.0,140.5 431.0,151.0"/>
<polyline points="347.2,99.2 349.8,105.5 351.0,115.5 349.0,123.0 346.0,129.2"/>
<polyline points="349.8,125.5 358.5,128.0 367.2,131.8 376.0,133.0 381.0,138.0 379.8,151.0"/>
<polyline points="363.5,36.8 366.0,34.2 367.2,36.0 364.0,40.5 362.2,40.0 363.5,36.8"/>
<polyline points="382.5,44.5 383.5,44.5 383.5,45.2 382.5,45.2 382.5,44.5"/>
<polyline points="65.0,160.4 68.8,160.0"/>
<polyline points="70.6,159.5 74.4,159.2"/>
<polyline points="80.6,158.8 83.8,158.5"/>
<polyline points="90.6,156.6 94.4,156.2"/>
<polyline points="96.9,156.0 100.6,155.8"/>
<polyline points="65.0,162.2 71.2,162.5 77.5,162.9 81.9,162.9 83.8,164.8 85.6,167.2 87.5,169.1 90.0,169.8 91.9,169.5"/>
<polyline points="85.6,167.2 88.1,163.5 90.0,159.1 91.9,157.2 97.5,157.5 103.8,157.9 106.9,159.1 108.1,162.9 107.5,166.6 106.2,167.9 108.1,169.1 110.6,167.9 111.9,164.8 110.6,163.5 108.8,165.4"/>
<polyline points="111.9,164.8 114.4,162.9 116.2,159.8 117.5,156.6 120.0,155.4 122.5,156.6 123.8,153.5 123.1,151.6 125.0,151.0"/>
<polyline points="123.8,153.5 126.2,156.6 130.0,157.2 131.9,159.8 133.8,163.5 136.2,167.2 140.0,169.5"/>
<polyline points="114.4,162.9 115.6,165.4 115.0,169.8 114.0,171.6"/>
<polyline points="88.1,169.8 89.4,172.2 88.8,176.0 86.9,179.8 85.0,183.5 83.8,187.2 80.0,188.5 76.2,189.8 75.0,192.2 77.5,194.1 81.2,195.4 82.5,198.5 81.2,202.2 77.5,204.1 74.4,205.4 73.1,210.0"/>
<polyline points="165.6,151.0 163.8,152.9 160.0,154.1 158.1,156.0 162.5,157.9 167.5,159.1 170.0,161.0 172.5,158.5 175.0,155.4 177.5,154.1 181.2,153.5 183.8,154.8 185.6,152.9 188.8,151.6 191.2,151.0"/>
<polyline points="226.1,228.0 225.5,231.8 227.4,235.5 228.0,240.5 230.5,243.0 232.4,246.8 232.8,253.0 231.8,258.0 230.5,261.8 228.0,263.0 226.8,261.1 229.2,259.2 231.1,257.4"/>
<polyline points="230.5,261.8 228.0,263.0 225.8,264.2 223.6,261.1 222.4,257.4 219.2,256.1 217.4,258.0 218.0,259.9 214.9,261.8 211.8,263.0"/>
<polyline points="231.1,257.4 234.2,258.0 236.1,259.9 236.8,263.0 240.5,264.9 245.5,267.4 249.2,269.9 251.8,271.1 254.2,269.9 256.8,269.2 258.6,271.1 259.2,273.6 256.8,276.1 254.9,277.4 256.8,279.2 259.2,281.1 261.1,284.2 261.8,287.0"/>
<polyline points="268.0,278.6 270.5,278.0 274.2,279.2 278.0,281.8 280.5,283.0 283.0,281.8 285.5,282.4 284.9,284.9 283.0,285.5"/>
<polyline points="201.2,151.0 205.0,154.8 212.5,158.5 215.0,163.5 218.8,167.2 225.0,169.8 228.8,173.5 223.8,174.8 225.0,183.5 221.2,191.0 218.8,197.2 222.5,203.5 226.2,211.0 227.5,223.5 228.8,228.5"/>
<polyline points="215.0,163.5 217.5,159.8 221.2,162.2 225.0,167.2 235.0,162.2 245.0,158.5 255.0,156.0 262.5,152.2 265.0,151.0"/>
<polyline points="216.2,168.5 220.0,171.0 225.0,172.2 227.5,171.0"/>
<polyline points="302.5,151.0 306.2,153.5 312.5,156.0 321.0,154.8"/>
<polyline points="65.0,298.4 68.8,299.0 71.9,298.0 73.8,300.2 77.5,302.1 81.2,304.0 85.0,305.2 87.5,307.8 83.8,311.5 80.0,315.2 77.5,319.0 75.6,322.8 74.4,325.9 73.1,328.0"/>
<polyline points="171.9,275.9 173.8,275.2 175.0,277.1 173.8,279.0 176.2,282.8 178.8,286.5 179.4,289.6 176.9,292.1 178.1,296.5 180.0,301.5 181.9,305.2 185.6,307.8 188.8,310.2 191.2,312.8 193.0,313.4"/>
<polyline points="248.0,269.0 251.8,270.2 255.5,270.9 258.0,270.2 258.6,274.0 255.5,275.9 254.9,277.8 258.0,280.2 260.5,284.0 262.4,287.8 264.9,288.4 266.8,285.2 269.2,282.8 268.0,279.0 270.5,278.4 274.2,280.2 278.0,282.1 281.8,284.0 284.2,282.1 285.5,284.6 284.9,287.8 288.0,291.5 291.8,290.9 295.5,293.4 299.2,295.9 302.4,294.6 303.6,299.0 305.5,302.8 307.4,305.9 310.5,310.2 313.6,309.0 316.8,306.5 321.0,305.2"/>
<polyline points="307.4,305.9 303.0,309.0 299.2,311.5 295.5,315.2 291.8,318.4 289.2,322.8 285.5,325.2 280.5,327.1 275.5,327.8 273.0,327.1 270.5,328.0"/>
<polyline points="193.0,315.2 195.5,317.1 199.2,321.5 201.8,325.2 203.6,328.0"/>
<polyline points="226.8,328.0 227.4,322.8 229.2,321.5 233.0,323.4 236.8,322.8 240.5,324.6 244.2,326.5 246.8,328.0"/>
<polyline points="70.6,328.0 69.4,333.0 67.5,339.2 66.9,344.2 68.1,348.0 72.5,348.6 76.2,350.5 81.2,348.6 85.0,351.1 87.5,346.8 90.6,344.9 93.8,348.0 98.8,350.5 103.8,351.8 107.5,354.9 110.0,357.4 114.4,354.2 117.5,356.8 120.0,361.8 121.9,365.5 125.0,364.2 127.5,360.5 129.4,357.4 133.1,358.6 137.5,361.1 142.5,364.2 147.5,363.6 152.5,361.8 158.8,359.9 165.0,358.6 168.8,356.1 173.8,358.0 178.8,357.4 182.5,360.5 183.8,355.5 181.9,350.5 180.0,345.5 182.5,341.8 187.5,339.2 193.0,336.1"/>
<polyline points="110.0,357.4 110.6,361.1 107.5,364.2 106.2,369.9 108.8,370.5 112.5,373.6 115.0,376.1 118.8,378.6 122.5,376.8 125.0,375.5 126.9,378.0 130.0,381.8 135.0,383.0 138.8,380.5 142.5,378.0 147.5,376.8 152.5,377.4 157.5,378.0 161.2,376.8 163.8,380.5 165.0,384.2 166.2,387.0"/>
<polyline points="126.9,378.0 125.0,383.0 123.8,387.0"/>
<polyline points="77.5,386.1 79.4,385.2 81.2,386.1"/>
<polyline points="117.5,386.1 119.4,385.9"/>
<polyline points="193.0,335.5 195.5,331.8 199.2,330.5 204.2,328.6 206.8,328.0 209.2,331.8 214.2,333.0 220.5,331.8 225.5,329.2 228.0,328.0"/>
<polyline points="248.0,328.0 251.8,330.5 255.5,329.9 258.0,328.0"/>
<polyline points="260.5,328.0 265.5,331.8 268.0,333.6 265.5,339.2 266.8,344.2 268.0,348.6 269.9,352.4 271.1,353.6 273.0,354.9 275.5,357.4 280.5,360.5 285.5,363.0 291.8,363.6 299.2,362.4 304.2,361.1 306.8,358.0 306.1,354.9 309.2,352.4 314.2,351.8 318.0,351.1 321.0,349.9"/>
<polyline points="268.0,333.6 270.5,330.5 272.4,328.0"/>
<polyline points="269.9,352.4 269.2,358.0 268.0,363.0 264.9,364.2 260.5,363.0 256.8,363.6 256.1,364.9 259.2,366.1 261.1,368.0 259.2,371.8 256.1,373.6 254.9,376.8 256.8,380.5 255.5,384.2 251.8,385.5 250.5,387.0"/>
<polyline points="275.5,328.0 278.0,329.2 281.8,328.6 283.6,328.0"/>
<polyline points="321.0,152.2 326.0,153.5 336.0,153.5 351.0,154.8 366.0,155.5 378.5,153.5 383.5,151.0 387.2,154.8 392.2,159.8 394.8,166.0 396.0,164.8 403.5,164.8 413.5,163.5 421.0,158.5 426.0,154.8 432.2,153.5 436.0,151.0"/>
<polyline points="431.5,154.0 432.5,152.0 434.5,152.0 435.5,154.0 434.5,156.0 432.5,156.0 431.5,154.0"/>
<polyline points="394.8,166.0 396.0,173.5 399.8,181.0 403.0,188.5 403.5,196.0 402.2,203.5 396.0,208.5 392.2,213.5 391.0,218.5 396.0,222.2 399.8,226.0 401.0,233.5 399.8,238.5 402.2,239.8 407.2,237.2 413.5,233.5 414.8,228.5 421.0,227.2 431.0,225.5 441.0,224.8 451.0,226.0 461.0,228.5 471.0,231.0 478.5,232.2 482.2,234.8 486.0,231.5 491.0,229.8 496.0,232.2 501.0,233.5 506.0,229.8 511.0,227.2 514.8,231.0 521.0,231.5 528.5,228.5 533.5,231.0 537.2,234.8 538.5,228.5 536.5,221.0 538.5,213.5 541.0,208.5 548.5,207.2 556.0,204.8 558.5,202.2 556.0,198.5 551.0,191.0 547.2,184.8 543.5,178.5 544.8,173.5 548.5,171.0 556.0,173.5 563.5,171.0 567.2,166.0 568.5,161.0 563.5,156.0 558.5,152.2 551.0,151.0"/>
<polyline points="558.5,202.2 564.8,201.0 567.2,197.2 572.2,196.5"/>
<polyline points="399.8,238.5 402.2,246.0 406.0,253.5 408.5,261.0 411.0,269.0"/>
<polyline points="413.5,269.0 411.0,275.2 403.5,279.0 398.5,286.5 392.2,294.0 387.2,301.5 384.8,309.0 387.2,315.2 389.8,320.2"/>
<polyline points="321.0,306.5 323.5,312.8 328.5,316.5 336.0,314.0 343.5,310.2 351.0,312.8 358.5,309.0 366.0,310.2 373.5,314.0 381.0,317.8 389.8,320.2 383.5,321.5 381.0,329.0 377.2,336.5 376.0,341.5"/>
<polyline points="321.0,350.2 328.5,349.0 336.0,346.5 341.0,340.2 346.0,337.8 353.5,339.0 361.0,336.0 367.2,340.2 376.0,341.5 382.2,346.5 388.5,350.2 393.5,354.0 398.5,350.2 406.0,352.8 416.0,354.0 426.0,354.0 433.5,357.8 438.5,357.8 443.5,352.8 453.5,349.0 461.0,347.8 468.5,341.5 472.2,337.8 476.0,334.0 483.5,331.5 491.0,330.2 498.5,332.8 506.0,336.5 513.5,339.0 521.0,342.8 526.0,344.0 527.2,354.0 533.5,359.0 536.0,365.2 541.0,371.5 546.0,375.2 547.2,381.5 548.5,387.0"/>
<polyline points="472.2,337.8 476.0,340.2 482.2,349.0 487.2,357.8 493.5,365.2 501.0,372.8 507.2,380.2 511.0,387.0"/>
<polyline points="393.5,354.0 387.2,359.0 379.8,365.2 374.8,371.5 372.2,379.0 369.8,387.0"/>
<polyline points="564.8,381.5 572.2,377.8"/>
<polyline points="566.0,387.0 565.5,382.8"/>
<polyline points="65.0,398.8 70.0,395.0 75.0,388.8 80.0,386.2 82.5,391.2 86.2,398.8 90.0,406.2 91.2,403.8 93.8,397.5 97.5,391.2 101.2,387.5 103.8,393.8 108.8,392.5 113.8,395.0 116.2,397.5 118.8,391.2 122.5,387.5 126.2,382.5 127.5,380.0 132.5,382.5 138.8,381.2 140.0,380.0"/>
<polyline points="162.5,380.0 165.0,386.2 170.0,390.0 177.5,392.5 185.0,395.0 192.5,397.5 197.5,397.5 205.0,400.0 212.5,401.2 220.0,397.5 227.5,395.0 237.5,393.8 245.0,390.0 251.2,388.8 255.0,385.0 256.2,380.0"/>
<polyline points="197.5,397.5 190.0,401.2 187.5,405.0 190.0,410.0 188.8,416.2 191.2,420.0 195.0,425.0 196.2,428.8"/>
<polyline points="251.2,388.8 252.5,395.0 255.0,400.0 250.0,401.2 245.0,405.0 240.0,408.8 236.2,411.2 237.5,417.5 235.0,422.5 230.0,425.0 227.5,428.8 225.0,432.5 220.0,430.0 215.0,426.2 211.2,425.0 207.5,428.8 201.2,427.5 196.2,428.8 191.2,430.0 188.8,428.8"/>
<polyline points="255.0,400.0 262.5,405.0 267.5,410.0 272.5,416.2 280.0,421.2 285.0,423.8 292.5,425.0 298.8,422.5 302.5,420.0 306.2,421.2 308.8,428.8 311.2,435.0 312.5,441.2 315.0,442.5 321.0,441.2"/>
<polyline points="306.2,421.2 312.5,418.8 317.5,417.0 321.0,415.0"/>
<polyline points="312.5,441.2 311.2,447.5 315.0,452.5 317.5,460.0"/>
<polyline points="157.5,460.0 158.0,452.5 161.2,447.5 163.8,442.5 160.0,438.8 157.5,433.8 160.0,427.5 165.0,425.0 172.5,423.8 180.0,420.0 185.0,421.2 190.0,420.0 193.8,423.8 196.2,428.8"/>
<polyline points="188.8,428.8 187.5,433.8 188.8,440.0 192.5,446.2 195.0,451.2 200.0,447.5 202.5,441.2 205.0,437.5 208.8,436.2 212.5,440.0 215.0,445.0 217.5,451.2 218.8,460.0"/>
<polyline points="203.8,441.2 205.0,446.2 203.8,452.5 206.2,456.2 208.8,452.5 207.5,445.0 203.8,441.2"/>
<polyline points="237.5,460.0 236.2,452.5 237.5,445.0 240.0,441.2 245.0,442.5 250.0,446.2 255.0,442.5 262.5,440.0 270.0,442.5 277.5,443.8 285.0,446.2 292.5,445.0 300.0,446.2 306.2,451.2 311.2,453.8 315.0,452.5"/>
<polyline points="65.0,455.0 71.2,451.2 77.5,450.0 83.8,452.5 90.0,456.2 95.0,460.0"/>
<polyline points="371.0,380.0 367.2,387.5 363.5,395.0 361.0,402.5 358.5,408.8 351.0,411.2 346.0,412.5 338.5,413.0 328.5,412.5 321.0,413.8"/>
<polyline points="338.5,413.0 343.5,420.0 348.5,425.0 351.0,433.8 358.5,440.0 364.8,442.5 367.2,447.5 363.5,451.2 366.0,455.0 371.0,458.8 378.5,460.0"/>
<polyline points="383.5,460.0 387.2,457.0 391.0,458.8 393.5,460.0"/>
<polyline points="507.2,380.0 511.0,387.5 512.2,397.5 511.0,407.5 512.2,417.5 516.0,423.8 521.0,427.5 528.5,428.8 533.5,425.0 541.0,421.2 547.2,422.5 549.0,427.5 548.0,437.5 542.2,440.0 538.5,438.8 534.8,436.2 532.2,440.0 533.5,445.0 531.0,450.0 529.0,455.0 528.0,460.0"/>
<polyline points="547.2,422.5 546.0,417.5 548.5,412.5 544.8,407.5 548.5,405.0 553.5,403.8 558.5,398.8 563.5,391.2 567.2,385.0 569.8,380.0"/>
<polyline points="512.2,417.5 518.5,415.0 523.5,410.0 526.0,403.8 528.5,397.5 526.0,392.5 527.2,387.5 533.5,386.2 541.0,388.8 546.0,387.5 551.0,387.5 547.2,383.8 547.2,380.0"/>
<polyline points="532.2,388.8 534.0,388.0 534.0,390.5 532.2,390.5 532.2,388.8"/>
<polyline points="533.5,445.0 536.0,442.5 541.0,440.0"/>
</g>
<path d="M65.5 33 V460 M572.5 33 V460" stroke="#222" stroke-width="1" fill="none"/>
</svg>
<svg class="abs" style="left:575px;top:33px" width="70" height="430" viewBox="575 33 70 430">
<rect x="580" y="33" width="17.1" height="123.8" fill="#1a14c8"/>
<rect x="580" y="156.5" width="17.1" height="148.6" fill="#1a32c8"/>
<rect x="580" y="304.8" width="17.1" height="73.5" fill="#1a50c8"/>
<rect x="580" y="378" width="17.1" height="37.6" fill="#1a78ff"/>
<rect x="580" y="415.3" width="17.1" height="19.0" fill="#1ac8ff"/>
<rect x="580" y="434" width="17.1" height="19.3" fill="#b4ffff"/>
<rect x="596.8" y="33" width="16.5" height="123.8" fill="#781450"/>
<rect x="596.8" y="156.5" width="16.5" height="148.6" fill="#961496"/>
<rect x="596.8" y="304.8" width="16.5" height="73.5" fill="#c814c8"/>
<rect x="596.8" y="378" width="16.5" height="37.6" fill="#ff3cff"/>
<rect x="596.8" y="415.3" width="16.5" height="19.0" fill="#ff64ff"/>
<rect x="596.8" y="434" width="16.5" height="19.3" fill="#ffb4ff"/>
<rect x="613" y="33" width="16.3" height="123.8" fill="#00502d"/>
<rect x="613" y="156.5" width="16.3" height="148.6" fill="#006e00"/>
<rect x="613" y="304.8" width="16.3" height="73.5" fill="#00a000"/>
<rect x="613" y="378" width="16.3" height="37.6" fill="#00ff00"/>
<rect x="613" y="415.3" width="16.3" height="19.0" fill="#b4ff00"/>
<rect x="613" y="434" width="16.3" height="19.3" fill="#ffffb4"/>
<path d="M580.5 33 V453.5 H633" fill="none" stroke="#001" stroke-width="1"/>
<path d="M628.8 33 V453" fill="none" stroke="#002a10" stroke-width="0.8" opacity=".75"/>
<path d="M629 157.0 H633" stroke="#000" stroke-width="1"/>
<path d="M629 305.3 H633" stroke="#000" stroke-width="1"/>
<path d="M629 378.5 H633" stroke="#000" stroke-width="1"/>
<path d="M629 415.8 H633" stroke="#000" stroke-width="1"/>
<path d="M629 434.5 H633" stroke="#000" stroke-width="1"/>
</svg>
<div class="lbl" style="left:634px;top:149.7px">16.0</div>
<div class="lbl" style="left:638px;top:297.7px">8.0</div>
<div class="lbl" style="left:638px;top:370.7px">4.0</div>
<div class="lbl" style="left:638px;top:407.7px">2.0</div>
<div class="lbl" style="left:638px;top:426.7px">1.0</div>
<div class="lbl" style="left:638px;top:445.7px">0.1</div>
</body></html>
